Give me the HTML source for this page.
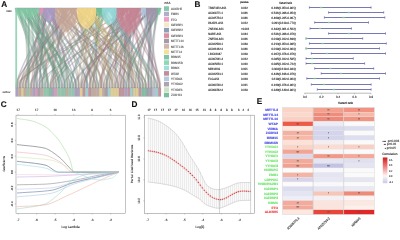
<!DOCTYPE html>
<html><head><meta charset="utf-8"><style>
html,body{margin:0;padding:0;background:#fff;width:400px;height:232px;overflow:hidden}
svg{display:block;will-change:transform;text-rendering:geometricPrecision}
text{stroke:currentColor;stroke-width:0.12px}
</style></head><body>
<svg width="400" height="232" viewBox="0 0 400 232">
<rect width="400" height="232" fill="#fff"/>
<defs><linearGradient id="g86cfab" gradientUnits="userSpaceOnUse" x1="0" y1="8" x2="0" y2="88"><stop offset="0" stop-color="#86cfab" stop-opacity="1.00"/><stop offset="0.10" stop-color="#86cfab" stop-opacity="0.75"/><stop offset="0.25" stop-color="#86cfab" stop-opacity="0.40"/><stop offset="1" stop-color="#86cfab" stop-opacity="0.40"/></linearGradient><linearGradient id="ge893b8" gradientUnits="userSpaceOnUse" x1="0" y1="8" x2="0" y2="88"><stop offset="0" stop-color="#e893b8" stop-opacity="1.00"/><stop offset="0.10" stop-color="#e893b8" stop-opacity="0.75"/><stop offset="0.25" stop-color="#e893b8" stop-opacity="0.40"/><stop offset="1" stop-color="#e893b8" stop-opacity="0.40"/></linearGradient><linearGradient id="gab9cc6" gradientUnits="userSpaceOnUse" x1="0" y1="8" x2="0" y2="88"><stop offset="0" stop-color="#ab9cc6" stop-opacity="1.00"/><stop offset="0.10" stop-color="#ab9cc6" stop-opacity="0.75"/><stop offset="0.25" stop-color="#ab9cc6" stop-opacity="0.40"/><stop offset="1" stop-color="#ab9cc6" stop-opacity="0.40"/></linearGradient><linearGradient id="gc9a99a" gradientUnits="userSpaceOnUse" x1="0" y1="8" x2="0" y2="88"><stop offset="0" stop-color="#c9a99a" stop-opacity="1.00"/><stop offset="0.10" stop-color="#c9a99a" stop-opacity="0.75"/><stop offset="0.25" stop-color="#c9a99a" stop-opacity="0.40"/><stop offset="1" stop-color="#c9a99a" stop-opacity="0.40"/></linearGradient><linearGradient id="gf5da88" gradientUnits="userSpaceOnUse" x1="0" y1="8" x2="0" y2="88"><stop offset="0" stop-color="#f5da88" stop-opacity="1.00"/><stop offset="0.10" stop-color="#f5da88" stop-opacity="0.75"/><stop offset="0.25" stop-color="#f5da88" stop-opacity="0.40"/><stop offset="1" stop-color="#f5da88" stop-opacity="0.40"/></linearGradient><linearGradient id="g72c09e" gradientUnits="userSpaceOnUse" x1="0" y1="8" x2="0" y2="88"><stop offset="0" stop-color="#72c09e" stop-opacity="1.00"/><stop offset="0.10" stop-color="#72c09e" stop-opacity="0.75"/><stop offset="0.25" stop-color="#72c09e" stop-opacity="0.40"/><stop offset="1" stop-color="#72c09e" stop-opacity="0.40"/></linearGradient><linearGradient id="g98dcdc" gradientUnits="userSpaceOnUse" x1="0" y1="8" x2="0" y2="88"><stop offset="0" stop-color="#98dcdc" stop-opacity="1.00"/><stop offset="0.10" stop-color="#98dcdc" stop-opacity="0.75"/><stop offset="0.25" stop-color="#98dcdc" stop-opacity="0.40"/><stop offset="1" stop-color="#98dcdc" stop-opacity="0.40"/></linearGradient><linearGradient id="gc98797" gradientUnits="userSpaceOnUse" x1="0" y1="8" x2="0" y2="88"><stop offset="0" stop-color="#c98797" stop-opacity="1.00"/><stop offset="0.10" stop-color="#c98797" stop-opacity="0.75"/><stop offset="0.25" stop-color="#c98797" stop-opacity="0.40"/><stop offset="1" stop-color="#c98797" stop-opacity="0.40"/></linearGradient><linearGradient id="gb6c8de" gradientUnits="userSpaceOnUse" x1="0" y1="8" x2="0" y2="88"><stop offset="0" stop-color="#b6c8de" stop-opacity="1.00"/><stop offset="0.10" stop-color="#b6c8de" stop-opacity="0.75"/><stop offset="0.25" stop-color="#b6c8de" stop-opacity="0.40"/><stop offset="1" stop-color="#b6c8de" stop-opacity="0.40"/></linearGradient><linearGradient id="ga398ae" gradientUnits="userSpaceOnUse" x1="0" y1="8" x2="0" y2="88"><stop offset="0" stop-color="#a398ae" stop-opacity="1.00"/><stop offset="0.10" stop-color="#a398ae" stop-opacity="0.75"/><stop offset="0.25" stop-color="#a398ae" stop-opacity="0.40"/><stop offset="1" stop-color="#a398ae" stop-opacity="0.40"/></linearGradient><linearGradient id="g78c4a0" gradientUnits="userSpaceOnUse" x1="0" y1="8" x2="0" y2="88"><stop offset="0" stop-color="#78c4a0" stop-opacity="1.00"/><stop offset="0.10" stop-color="#78c4a0" stop-opacity="0.75"/><stop offset="0.25" stop-color="#78c4a0" stop-opacity="0.40"/><stop offset="1" stop-color="#78c4a0" stop-opacity="0.40"/></linearGradient></defs>
<text x="1.3" y="6.8" font-size="8.2" font-weight="bold" font-family="Liberation Sans, sans-serif" fill="#111" color="#111">A</text>
<text x="6.20" y="12.20" font-size="2.80" text-anchor="start" textLength="5.34" lengthAdjust="spacingAndGlyphs" font-family="Liberation Sans, sans-serif" fill="#555" color="#555">risks</text>
<text x="2.40" y="93.20" font-size="2.80" text-anchor="start" textLength="7.92" lengthAdjust="spacingAndGlyphs" font-family="Liberation Sans, sans-serif" fill="#555" color="#555">outflow</text>
<path d="M72.76,8.00 L72.76,8.00 C61.36,24.72 19.20,67.28 15.78,84.00 L15.78,88.00 L16.71,88.00 L16.71,84.00 C20.16,67.28 62.68,24.72 74.17,8.00 L74.17,8.00 Z" fill="url(#gc9a99a)" stroke="#444" stroke-opacity="0.45" stroke-width="0.30"/>
<path d="M51.48,8.00 L51.48,8.00 C44.44,24.72 18.41,67.28 16.30,84.00 L16.30,88.00 L17.23,88.00 L17.23,84.00 C19.37,67.28 45.78,24.72 52.92,8.00 L52.92,8.00 Z" fill="url(#gab9cc6)" stroke="#444" stroke-opacity="0.45" stroke-width="0.30"/>
<path d="M68.04,8.00 L68.04,8.00 C57.80,24.72 19.89,67.28 16.82,84.00 L16.82,88.00 L17.75,88.00 L17.75,84.00 C20.85,67.28 59.12,24.72 69.46,8.00 L69.46,8.00 Z" fill="url(#gc9a99a)" stroke="#444" stroke-opacity="0.45" stroke-width="0.30"/>
<path d="M139.89,8.00 L139.89,8.00 C115.38,24.72 24.69,67.28 17.33,84.00 L17.33,88.00 L18.26,88.00 L18.26,84.00 C25.65,67.28 116.71,24.72 141.32,8.00 L141.32,8.00 Z" fill="url(#gc98797)" stroke="#444" stroke-opacity="0.45" stroke-width="0.30"/>
<path d="M128.04,8.00 L128.04,8.00 C106.20,24.72 25.38,67.28 18.83,84.00 L18.83,88.00 L19.76,88.00 L19.76,84.00 C26.34,67.28 107.52,24.72 129.46,8.00 L129.46,8.00 Z" fill="url(#gc98797)" stroke="#444" stroke-opacity="0.45" stroke-width="0.30"/>
<path d="M71.97,8.00 L71.97,8.00 C61.45,24.72 22.50,67.28 19.35,84.00 L19.35,88.00 L20.28,88.00 L20.28,84.00 C23.46,67.28 62.76,24.72 73.39,8.00 L73.39,8.00 Z" fill="url(#gc9a99a)" stroke="#444" stroke-opacity="0.45" stroke-width="0.30"/>
<path d="M86.18,8.00 L86.18,8.00 C72.92,24.72 23.84,67.28 19.86,84.00 L19.86,88.00 L20.79,88.00 L20.79,84.00 C24.80,67.28 74.25,24.72 87.61,8.00 L87.61,8.00 Z" fill="url(#gf5da88)" stroke="#444" stroke-opacity="0.45" stroke-width="0.30"/>
<path d="M49.08,8.00 L49.08,8.00 C43.34,24.72 22.10,67.28 20.38,84.00 L20.38,88.00 L21.31,88.00 L21.31,84.00 C23.06,67.28 44.68,24.72 50.52,8.00 L50.52,8.00 Z" fill="url(#gab9cc6)" stroke="#444" stroke-opacity="0.45" stroke-width="0.30"/>
<path d="M88.56,8.00 L88.56,8.00 C75.22,24.72 25.88,67.28 21.88,84.00 L21.88,88.00 L22.81,88.00 L22.81,84.00 C26.84,67.28 76.55,24.72 89.98,8.00 L89.98,8.00 Z" fill="url(#gf5da88)" stroke="#444" stroke-opacity="0.45" stroke-width="0.30"/>
<path d="M56.26,8.00 L56.26,8.00 C49.48,24.72 24.42,67.28 22.39,84.00 L22.39,88.00 L23.32,88.00 L23.32,84.00 C25.38,67.28 50.80,24.72 57.67,8.00 L57.67,8.00 Z" fill="url(#gc9a99a)" stroke="#444" stroke-opacity="0.45" stroke-width="0.30"/>
<path d="M68.83,8.00 L68.83,8.00 C59.64,24.72 25.66,67.28 22.91,84.00 L22.91,88.00 L23.84,88.00 L23.84,84.00 C26.62,67.28 60.96,24.72 70.24,8.00 L70.24,8.00 Z" fill="url(#gc9a99a)" stroke="#444" stroke-opacity="0.45" stroke-width="0.30"/>
<path d="M83.02,8.00 L83.02,8.00 C71.29,24.72 27.92,67.28 24.41,84.00 L24.41,88.00 L25.34,88.00 L25.34,84.00 C28.88,67.28 72.62,24.72 84.44,8.00 L84.44,8.00 Z" fill="url(#gf5da88)" stroke="#444" stroke-opacity="0.45" stroke-width="0.30"/>
<path d="M61.76,8.00 L61.76,8.00 C54.39,24.72 27.13,67.28 24.92,84.00 L24.92,88.00 L25.85,88.00 L25.85,84.00 C28.09,67.28 55.71,24.72 63.17,8.00 L63.17,8.00 Z" fill="url(#gc9a99a)" stroke="#444" stroke-opacity="0.45" stroke-width="0.30"/>
<path d="M64.90,8.00 L64.90,8.00 C57.01,24.72 27.81,67.28 25.44,84.00 L25.44,88.00 L26.37,88.00 L26.37,84.00 C28.77,67.28 58.33,24.72 66.31,8.00 L66.31,8.00 Z" fill="url(#gc9a99a)" stroke="#444" stroke-opacity="0.45" stroke-width="0.30"/>
<path d="M44.28,8.00 L44.28,8.00 C40.62,24.72 27.06,67.28 25.96,84.00 L25.96,88.00 L26.89,88.00 L26.89,84.00 C28.02,67.28 41.95,24.72 45.72,8.00 L45.72,8.00 Z" fill="url(#gab9cc6)" stroke="#444" stroke-opacity="0.45" stroke-width="0.30"/>
<path d="M24.40,8.00 L24.40,8.00 C25.01,24.72 27.27,67.28 27.45,84.00 L27.45,88.00 L28.38,88.00 L28.38,84.00 C28.23,67.28 26.34,24.72 25.83,8.00 L25.83,8.00 Z" fill="url(#g86cfab)" stroke="#444" stroke-opacity="0.45" stroke-width="0.30"/>
<path d="M28.37,8.00 L28.37,8.00 C28.29,24.72 27.99,67.28 27.97,84.00 L27.97,88.00 L28.90,88.00 L28.90,84.00 C28.95,67.28 29.62,24.72 29.80,8.00 L29.80,8.00 Z" fill="url(#g86cfab)" stroke="#444" stroke-opacity="0.45" stroke-width="0.30"/>
<path d="M27.58,8.00 L27.58,8.00 C27.76,24.72 28.43,67.28 28.49,84.00 L28.49,88.00 L29.42,88.00 L29.42,84.00 C29.39,67.28 29.09,24.72 29.00,8.00 L29.00,8.00 Z" fill="url(#g86cfab)" stroke="#444" stroke-opacity="0.45" stroke-width="0.30"/>
<path d="M90.93,8.00 L90.93,8.00 C78.74,24.72 33.64,67.28 29.98,84.00 L29.98,88.00 L30.91,88.00 L30.91,84.00 C34.60,67.28 80.07,24.72 92.36,8.00 L92.36,8.00 Z" fill="url(#gf5da88)" stroke="#444" stroke-opacity="0.45" stroke-width="0.30"/>
<path d="M75.11,8.00 L75.11,8.00 C66.19,24.72 33.18,67.28 30.50,84.00 L30.50,88.00 L31.43,88.00 L31.43,84.00 C34.14,67.28 67.51,24.72 76.53,8.00 L76.53,8.00 Z" fill="url(#gc9a99a)" stroke="#444" stroke-opacity="0.45" stroke-width="0.30"/>
<path d="M103.29,8.00 L103.29,8.00 C88.83,24.72 35.35,67.28 31.02,84.00 L31.02,88.00 L31.95,88.00 L31.95,84.00 C36.31,67.28 90.18,24.72 104.74,8.00 L104.74,8.00 Z" fill="url(#g98dcdc)" stroke="#444" stroke-opacity="0.45" stroke-width="0.30"/>
<path d="M39.48,8.00 L39.48,8.00 C37.89,24.72 32.01,67.28 31.53,84.00 L31.53,88.00 L32.46,88.00 L32.46,84.00 C32.97,67.28 39.23,24.72 40.92,8.00 L40.92,8.00 Z" fill="url(#ge893b8)" stroke="#444" stroke-opacity="0.45" stroke-width="0.30"/>
<path d="M46.68,8.00 L46.68,8.00 C43.95,24.72 33.85,67.28 33.03,84.00 L33.03,88.00 L33.96,88.00 L33.96,84.00 C34.81,67.28 45.29,24.72 48.12,8.00 L48.12,8.00 Z" fill="url(#gab9cc6)" stroke="#444" stroke-opacity="0.45" stroke-width="0.30"/>
<path d="M65.69,8.00 L65.69,8.00 C59.26,24.72 35.47,67.28 33.55,84.00 L33.55,88.00 L34.48,88.00 L34.48,84.00 C36.43,67.28 60.58,24.72 67.10,8.00 L67.10,8.00 Z" fill="url(#gc9a99a)" stroke="#444" stroke-opacity="0.45" stroke-width="0.30"/>
<path d="M53.88,8.00 L53.88,8.00 C49.92,24.72 35.25,67.28 34.06,84.00 L34.06,88.00 L34.99,88.00 L34.99,84.00 C36.21,67.28 51.25,24.72 55.32,8.00 L55.32,8.00 Z" fill="url(#gab9cc6)" stroke="#444" stroke-opacity="0.45" stroke-width="0.30"/>
<path d="M18.06,8.00 L18.06,8.00 C21.56,24.72 34.51,67.28 35.56,84.00 L35.56,88.00 L36.49,88.00 L36.49,84.00 C35.47,67.28 22.88,24.72 19.48,8.00 L19.48,8.00 Z" fill="url(#g86cfab)" stroke="#444" stroke-opacity="0.45" stroke-width="0.30"/>
<path d="M38.68,8.00 L38.68,8.00 C38.16,24.72 36.23,67.28 36.08,84.00 L36.08,88.00 L37.01,88.00 L37.01,84.00 C37.19,67.28 39.50,24.72 40.12,8.00 L40.12,8.00 Z" fill="url(#ge893b8)" stroke="#444" stroke-opacity="0.45" stroke-width="0.30"/>
<path d="M108.93,8.00 L108.93,8.00 C94.46,24.72 40.93,67.28 36.59,84.00 L36.59,88.00 L37.52,88.00 L37.52,84.00 C41.89,67.28 95.81,24.72 110.38,8.00 L110.38,8.00 Z" fill="url(#g98dcdc)" stroke="#444" stroke-opacity="0.45" stroke-width="0.30"/>
<path d="M29.16,8.00 L29.16,8.00 C30.75,24.72 36.63,67.28 37.11,84.00 L37.11,88.00 L38.04,88.00 L38.04,84.00 C37.59,67.28 32.08,24.72 30.59,8.00 L30.59,8.00 Z" fill="url(#g86cfab)" stroke="#444" stroke-opacity="0.45" stroke-width="0.30"/>
<path d="M150.60,8.00 L150.60,8.00 C128.20,24.72 45.32,67.28 38.60,84.00 L38.60,88.00 L39.54,88.00 L39.54,84.00 C46.29,67.28 129.57,24.72 152.08,8.00 L152.08,8.00 Z" fill="url(#ga398ae)" stroke="#444" stroke-opacity="0.45" stroke-width="0.30"/>
<path d="M45.08,8.00 L45.08,8.00 C43.89,24.72 39.48,67.28 39.12,84.00 L39.12,88.00 L40.05,88.00 L40.05,84.00 C40.44,67.28 45.23,24.72 46.52,8.00 L46.52,8.00 Z" fill="url(#gab9cc6)" stroke="#444" stroke-opacity="0.45" stroke-width="0.30"/>
<path d="M43.48,8.00 L43.48,8.00 C42.71,24.72 39.87,67.28 39.64,84.00 L39.64,88.00 L40.57,88.00 L40.57,84.00 C40.83,67.28 44.05,24.72 44.92,8.00 L44.92,8.00 Z" fill="url(#gab9cc6)" stroke="#444" stroke-opacity="0.45" stroke-width="0.30"/>
<path d="M74.33,8.00 L74.33,8.00 C67.69,24.72 43.13,67.28 41.13,84.00 L41.13,88.00 L42.06,88.00 L42.06,84.00 C44.09,67.28 69.01,24.72 75.74,8.00 L75.74,8.00 Z" fill="url(#gc9a99a)" stroke="#444" stroke-opacity="0.45" stroke-width="0.30"/>
<path d="M63.33,8.00 L63.33,8.00 C58.99,24.72 42.95,67.28 41.65,84.00 L41.65,88.00 L42.58,88.00 L42.58,84.00 C43.91,67.28 60.31,24.72 64.74,8.00 L64.74,8.00 Z" fill="url(#gc9a99a)" stroke="#444" stroke-opacity="0.45" stroke-width="0.30"/>
<path d="M17.26,8.00 L17.26,8.00 C22.24,24.72 40.67,67.28 42.17,84.00 L42.17,88.00 L43.10,88.00 L43.10,84.00 C41.63,67.28 23.57,24.72 18.69,8.00 L18.69,8.00 Z" fill="url(#g86cfab)" stroke="#444" stroke-opacity="0.45" stroke-width="0.30"/>
<path d="M14.88,8.00 L14.88,8.00 C20.44,24.72 41.02,67.28 42.68,84.00 L42.68,88.00 L43.62,88.00 L43.62,84.00 C41.98,67.28 21.77,24.72 16.31,8.00 L16.31,8.00 Z" fill="url(#g86cfab)" stroke="#444" stroke-opacity="0.45" stroke-width="0.30"/>
<path d="M33.13,8.00 L33.13,8.00 C35.34,24.72 43.52,67.28 44.18,84.00 L44.18,88.00 L45.11,88.00 L45.11,84.00 C44.48,67.28 36.67,24.72 34.56,8.00 L34.56,8.00 Z" fill="url(#g86cfab)" stroke="#444" stroke-opacity="0.45" stroke-width="0.30"/>
<path d="M107.32,8.00 L107.32,8.00 C94.79,24.72 48.46,67.28 44.70,84.00 L44.70,88.00 L45.63,88.00 L45.63,84.00 C49.42,67.28 96.14,24.72 108.77,8.00 L108.77,8.00 Z" fill="url(#g98dcdc)" stroke="#444" stroke-opacity="0.45" stroke-width="0.30"/>
<path d="M35.51,8.00 L35.51,8.00 C37.45,24.72 44.63,67.28 45.21,84.00 L45.21,88.00 L46.14,88.00 L46.14,84.00 C45.59,67.28 38.78,24.72 36.94,8.00 L36.94,8.00 Z" fill="url(#g86cfab)" stroke="#444" stroke-opacity="0.45" stroke-width="0.30"/>
<path d="M40.28,8.00 L40.28,8.00 C41.57,24.72 46.33,67.28 46.71,84.00 L46.71,88.00 L47.64,88.00 L47.64,84.00 C47.29,67.28 42.90,24.72 41.72,8.00 L41.72,8.00 Z" fill="url(#ge893b8)" stroke="#444" stroke-opacity="0.45" stroke-width="0.30"/>
<path d="M16.47,8.00 L16.47,8.00 C22.62,24.72 45.38,67.28 47.23,84.00 L47.23,88.00 L48.16,88.00 L48.16,84.00 C46.34,67.28 23.95,24.72 17.90,8.00 L17.90,8.00 Z" fill="url(#g86cfab)" stroke="#444" stroke-opacity="0.45" stroke-width="0.30"/>
<path d="M29.96,8.00 L29.96,8.00 C33.51,24.72 46.68,67.28 47.74,84.00 L47.74,88.00 L48.67,88.00 L48.67,84.00 C47.64,67.28 34.84,24.72 31.38,8.00 L31.38,8.00 Z" fill="url(#g86cfab)" stroke="#444" stroke-opacity="0.45" stroke-width="0.30"/>
<path d="M18.85,8.00 L18.85,8.00 C24.73,24.72 46.50,67.28 48.26,84.00 L48.26,88.00 L49.19,88.00 L49.19,84.00 C47.46,67.28 26.06,24.72 20.28,8.00 L20.28,8.00 Z" fill="url(#g86cfab)" stroke="#444" stroke-opacity="0.45" stroke-width="0.30"/>
<path d="M100.20,8.00 L100.20,8.00 C90.11,24.72 52.78,67.28 49.76,84.00 L49.76,88.00 L50.69,88.00 L50.69,84.00 C53.74,67.28 91.38,24.72 101.55,8.00 L101.55,8.00 Z" fill="url(#g72c09e)" stroke="#444" stroke-opacity="0.45" stroke-width="0.30"/>
<path d="M66.47,8.00 L66.47,8.00 C63.23,24.72 51.25,67.28 50.27,84.00 L50.27,88.00 L51.20,88.00 L51.20,84.00 C52.21,67.28 64.55,24.72 67.89,8.00 L67.89,8.00 Z" fill="url(#gc9a99a)" stroke="#444" stroke-opacity="0.45" stroke-width="0.30"/>
<path d="M128.83,8.00 L128.83,8.00 C113.22,24.72 55.47,67.28 50.79,84.00 L50.79,88.00 L51.72,88.00 L51.72,84.00 C56.43,67.28 114.55,24.72 130.25,8.00 L130.25,8.00 Z" fill="url(#gc98797)" stroke="#444" stroke-opacity="0.45" stroke-width="0.30"/>
<path d="M64.11,8.00 L64.11,8.00 C61.75,24.72 53.00,67.28 52.29,84.00 L52.29,88.00 L53.22,88.00 L53.22,84.00 C53.96,67.28 63.07,24.72 65.53,8.00 L65.53,8.00 Z" fill="url(#gc9a99a)" stroke="#444" stroke-opacity="0.45" stroke-width="0.30"/>
<path d="M52.28,8.00 L52.28,8.00 C52.38,24.72 52.77,67.28 52.80,84.00 L52.80,88.00 L53.73,88.00 L53.73,84.00 C53.73,67.28 53.72,24.72 53.72,8.00 L53.72,8.00 Z" fill="url(#gab9cc6)" stroke="#444" stroke-opacity="0.45" stroke-width="0.30"/>
<path d="M86.98,8.00 L86.98,8.00 C80.24,24.72 55.34,67.28 53.32,84.00 L53.32,88.00 L54.25,88.00 L54.25,84.00 C56.30,67.28 81.57,24.72 88.40,8.00 L88.40,8.00 Z" fill="url(#gf5da88)" stroke="#444" stroke-opacity="0.45" stroke-width="0.30"/>
<path d="M142.33,8.00 L142.33,8.00 C124.63,24.72 59.15,67.28 53.84,84.00 L53.84,88.00 L54.77,88.00 L54.77,84.00 C60.11,67.28 126.02,24.72 143.83,8.00 L143.83,8.00 Z" fill="url(#gb6c8de)" stroke="#444" stroke-opacity="0.45" stroke-width="0.30"/>
<path d="M31.54,8.00 L31.54,8.00 C36.30,24.72 53.91,67.28 55.33,84.00 L55.33,88.00 L56.26,88.00 L56.26,84.00 C54.87,67.28 37.63,24.72 32.97,8.00 L32.97,8.00 Z" fill="url(#g86cfab)" stroke="#444" stroke-opacity="0.45" stroke-width="0.30"/>
<path d="M41.08,8.00 L41.08,8.00 C44.03,24.72 54.96,67.28 55.85,84.00 L55.85,88.00 L56.78,88.00 L56.78,84.00 C55.93,67.28 45.37,24.72 42.52,8.00 L42.52,8.00 Z" fill="url(#ge893b8)" stroke="#444" stroke-opacity="0.45" stroke-width="0.30"/>
<path d="M97.20,8.00 L97.20,8.00 C89.03,24.72 58.82,67.28 56.37,84.00 L56.37,88.00 L57.30,88.00 L57.30,84.00 C59.77,67.28 90.30,24.72 98.55,8.00 L98.55,8.00 Z" fill="url(#g72c09e)" stroke="#444" stroke-opacity="0.45" stroke-width="0.30"/>
<path d="M109.73,8.00 L109.73,8.00 C99.36,24.72 60.98,67.28 57.86,84.00 L57.86,88.00 L58.79,88.00 L58.79,84.00 C61.94,67.28 100.71,24.72 111.18,8.00 L111.18,8.00 Z" fill="url(#g98dcdc)" stroke="#444" stroke-opacity="0.45" stroke-width="0.30"/>
<path d="M23.61,8.00 L23.61,8.00 C30.56,24.72 56.29,67.28 58.38,84.00 L58.38,88.00 L59.31,88.00 L59.31,84.00 C57.25,67.28 31.89,24.72 25.04,8.00 L25.04,8.00 Z" fill="url(#g86cfab)" stroke="#444" stroke-opacity="0.45" stroke-width="0.30"/>
<path d="M22.02,8.00 L22.02,8.00 C29.40,24.72 56.68,67.28 58.90,84.00 L58.90,88.00 L59.83,88.00 L59.83,84.00 C57.64,67.28 30.73,24.72 23.45,8.00 L23.45,8.00 Z" fill="url(#g86cfab)" stroke="#444" stroke-opacity="0.45" stroke-width="0.30"/>
<path d="M15.68,8.00 L15.68,8.00 C24.42,24.72 56.79,67.28 59.41,84.00 L59.41,88.00 L60.34,88.00 L60.34,84.00 C57.75,67.28 25.75,24.72 17.10,8.00 L17.10,8.00 Z" fill="url(#g86cfab)" stroke="#444" stroke-opacity="0.45" stroke-width="0.30"/>
<path d="M20.44,8.00 L20.44,8.00 C28.53,24.72 58.48,67.28 60.91,84.00 L60.91,88.00 L61.84,88.00 L61.84,84.00 C59.44,67.28 29.86,24.72 21.86,8.00 L21.86,8.00 Z" fill="url(#g86cfab)" stroke="#444" stroke-opacity="0.45" stroke-width="0.30"/>
<path d="M22.82,8.00 L22.82,8.00 C30.54,24.72 59.11,67.28 61.43,84.00 L61.43,88.00 L62.36,88.00 L62.36,84.00 C60.07,67.28 31.87,24.72 24.24,8.00 L24.24,8.00 Z" fill="url(#g86cfab)" stroke="#444" stroke-opacity="0.45" stroke-width="0.30"/>
<path d="M53.08,8.00 L53.08,8.00 C54.85,24.72 61.41,67.28 61.94,84.00 L61.94,88.00 L62.87,88.00 L62.87,84.00 C62.37,67.28 56.19,24.72 54.52,8.00 L54.52,8.00 Z" fill="url(#gab9cc6)" stroke="#444" stroke-opacity="0.45" stroke-width="0.30"/>
<path d="M146.49,8.00 L146.49,8.00 C129.88,24.72 68.42,67.28 63.44,84.00 L63.44,88.00 L64.37,88.00 L64.37,84.00 C69.39,67.28 131.25,24.72 147.97,8.00 L147.97,8.00 Z" fill="url(#ga398ae)" stroke="#444" stroke-opacity="0.45" stroke-width="0.30"/>
<path d="M30.75,8.00 L30.75,8.00 C37.39,24.72 61.96,67.28 63.96,84.00 L63.96,88.00 L64.89,88.00 L64.89,84.00 C62.92,67.28 38.72,24.72 32.18,8.00 L32.18,8.00 Z" fill="url(#g86cfab)" stroke="#444" stroke-opacity="0.45" stroke-width="0.30"/>
<path d="M33.92,8.00 L33.92,8.00 C40.03,24.72 62.64,67.28 64.47,84.00 L64.47,88.00 L65.40,88.00 L65.40,84.00 C63.60,67.28 41.36,24.72 35.35,8.00 L35.35,8.00 Z" fill="url(#g86cfab)" stroke="#444" stroke-opacity="0.45" stroke-width="0.30"/>
<path d="M25.99,8.00 L25.99,8.00 C33.79,24.72 62.65,67.28 64.99,84.00 L64.99,88.00 L65.92,88.00 L65.92,84.00 C63.61,67.28 35.12,24.72 27.42,8.00 L27.42,8.00 Z" fill="url(#g86cfab)" stroke="#444" stroke-opacity="0.45" stroke-width="0.30"/>
<path d="M26.78,8.00 L26.78,8.00 C34.72,24.72 64.10,67.28 66.49,84.00 L66.49,88.00 L67.42,88.00 L67.42,84.00 C65.06,67.28 36.05,24.72 28.21,8.00 L28.21,8.00 Z" fill="url(#g86cfab)" stroke="#444" stroke-opacity="0.45" stroke-width="0.30"/>
<path d="M55.47,8.00 L55.47,8.00 C57.78,24.72 66.31,67.28 67.00,84.00 L67.00,88.00 L67.93,88.00 L67.93,84.00 C67.27,67.28 59.10,24.72 56.89,8.00 L56.89,8.00 Z" fill="url(#gc9a99a)" stroke="#444" stroke-opacity="0.45" stroke-width="0.30"/>
<path d="M34.72,8.00 L34.72,8.00 C41.28,24.72 65.55,67.28 67.52,84.00 L67.52,88.00 L68.45,88.00 L68.45,84.00 C66.51,67.28 42.61,24.72 36.14,8.00 L36.14,8.00 Z" fill="url(#g86cfab)" stroke="#444" stroke-opacity="0.45" stroke-width="0.30"/>
<path d="M49.88,8.00 L49.88,8.00 C53.71,24.72 67.87,67.28 69.02,84.00 L69.02,88.00 L69.95,88.00 L69.95,84.00 C68.83,67.28 55.05,24.72 51.32,8.00 L51.32,8.00 Z" fill="url(#gab9cc6)" stroke="#444" stroke-opacity="0.45" stroke-width="0.30"/>
<path d="M32.34,8.00 L32.34,8.00 C39.78,24.72 67.30,67.28 69.53,84.00 L69.53,88.00 L70.46,88.00 L70.46,84.00 C68.26,67.28 41.10,24.72 33.76,8.00 L33.76,8.00 Z" fill="url(#g86cfab)" stroke="#444" stroke-opacity="0.45" stroke-width="0.30"/>
<path d="M97.95,8.00 L97.95,8.00 C92.37,24.72 71.72,67.28 70.05,84.00 L70.05,88.00 L70.98,88.00 L70.98,84.00 C72.68,67.28 93.64,24.72 99.30,8.00 L99.30,8.00 Z" fill="url(#g72c09e)" stroke="#444" stroke-opacity="0.45" stroke-width="0.30"/>
<path d="M102.48,8.00 L102.48,8.00 C96.10,24.72 72.48,67.28 70.57,84.00 L70.57,88.00 L71.50,88.00 L71.50,84.00 C73.44,67.28 97.45,24.72 103.93,8.00 L103.93,8.00 Z" fill="url(#g98dcdc)" stroke="#444" stroke-opacity="0.45" stroke-width="0.30"/>
<path d="M37.10,8.00 L37.10,8.00 C44.09,24.72 69.96,67.28 72.06,84.00 L72.06,88.00 L72.99,88.00 L72.99,84.00 C70.92,67.28 45.42,24.72 38.52,8.00 L38.52,8.00 Z" fill="url(#g86cfab)" stroke="#444" stroke-opacity="0.45" stroke-width="0.30"/>
<path d="M25.20,8.00 L25.20,8.00 C34.67,24.72 69.74,67.28 72.58,84.00 L72.58,88.00 L73.51,88.00 L73.51,84.00 C70.70,67.28 36.00,24.72 26.62,8.00 L26.62,8.00 Z" fill="url(#g86cfab)" stroke="#444" stroke-opacity="0.45" stroke-width="0.30"/>
<path d="M153.89,8.00 L153.89,8.00 C137.73,24.72 77.94,67.28 73.10,84.00 L73.10,88.00 L74.03,88.00 L74.03,84.00 C78.91,67.28 139.10,24.72 155.36,8.00 L155.36,8.00 Z" fill="url(#ga398ae)" stroke="#444" stroke-opacity="0.45" stroke-width="0.30"/>
<path d="M152.24,8.00 L152.24,8.00 C136.71,24.72 79.25,67.28 74.59,84.00 L74.59,88.00 L75.52,88.00 L75.52,84.00 C80.21,67.28 138.08,24.72 153.72,8.00 L153.72,8.00 Z" fill="url(#ga398ae)" stroke="#444" stroke-opacity="0.45" stroke-width="0.30"/>
<path d="M42.68,8.00 L42.68,8.00 C49.17,24.72 73.16,67.28 75.11,84.00 L75.11,88.00 L76.04,88.00 L76.04,84.00 C74.12,67.28 50.50,24.72 44.12,8.00 L44.12,8.00 Z" fill="url(#gab9cc6)" stroke="#444" stroke-opacity="0.45" stroke-width="0.30"/>
<path d="M21.23,8.00 L21.23,8.00 C32.11,24.72 72.36,67.28 75.63,84.00 L75.63,88.00 L76.56,88.00 L76.56,84.00 C73.32,67.28 33.44,24.72 22.66,8.00 L22.66,8.00 Z" fill="url(#g86cfab)" stroke="#444" stroke-opacity="0.45" stroke-width="0.30"/>
<path d="M19.64,8.00 L19.64,8.00 C30.94,24.72 72.75,67.28 76.14,84.00 L76.14,88.00 L77.07,88.00 L77.07,84.00 C73.71,67.28 32.27,24.72 21.07,8.00 L21.07,8.00 Z" fill="url(#g86cfab)" stroke="#444" stroke-opacity="0.45" stroke-width="0.30"/>
<path d="M89.35,8.00 L89.35,8.00 C87.01,24.72 78.34,67.28 77.64,84.00 L77.64,88.00 L78.57,88.00 L78.57,84.00 C79.30,67.28 88.33,24.72 90.78,8.00 L90.78,8.00 Z" fill="url(#gf5da88)" stroke="#444" stroke-opacity="0.45" stroke-width="0.30"/>
<path d="M47.48,8.00 L47.48,8.00 C53.62,24.72 76.32,67.28 78.16,84.00 L78.16,88.00 L79.09,88.00 L79.09,84.00 C77.28,67.28 54.95,24.72 48.92,8.00 L48.92,8.00 Z" fill="url(#gab9cc6)" stroke="#444" stroke-opacity="0.45" stroke-width="0.30"/>
<path d="M60.97,8.00 L60.97,8.00 C64.51,24.72 77.61,67.28 78.67,84.00 L78.67,88.00 L79.60,88.00 L79.60,84.00 C78.57,67.28 65.83,24.72 62.39,8.00 L62.39,8.00 Z" fill="url(#gc9a99a)" stroke="#444" stroke-opacity="0.45" stroke-width="0.30"/>
<path d="M105.71,8.00 L105.71,8.00 C100.60,24.72 81.70,67.28 80.17,84.00 L80.17,88.00 L81.10,88.00 L81.10,84.00 C82.66,67.28 101.94,24.72 107.16,8.00 L107.16,8.00 Z" fill="url(#g98dcdc)" stroke="#444" stroke-opacity="0.45" stroke-width="0.30"/>
<path d="M93.31,8.00 L93.31,8.00 C90.78,24.72 81.44,67.28 80.69,84.00 L80.69,88.00 L81.62,88.00 L81.62,84.00 C82.40,67.28 92.11,24.72 94.73,8.00 L94.73,8.00 Z" fill="url(#gf5da88)" stroke="#444" stroke-opacity="0.45" stroke-width="0.30"/>
<path d="M122.51,8.00 L122.51,8.00 C114.25,24.72 83.68,67.28 81.20,84.00 L81.20,88.00 L82.13,88.00 L82.13,84.00 C84.64,67.28 115.57,24.72 123.93,8.00 L123.93,8.00 Z" fill="url(#gc98797)" stroke="#444" stroke-opacity="0.45" stroke-width="0.30"/>
<path d="M136.73,8.00 L136.73,8.00 C125.73,24.72 85.02,67.28 81.72,84.00 L81.72,88.00 L82.65,88.00 L82.65,84.00 C85.98,67.28 127.05,24.72 138.15,8.00 L138.15,8.00 Z" fill="url(#gc98797)" stroke="#444" stroke-opacity="0.45" stroke-width="0.30"/>
<path d="M134.36,8.00 L134.36,8.00 C124.13,24.72 86.28,67.28 83.22,84.00 L83.22,88.00 L84.15,88.00 L84.15,84.00 C87.24,67.28 125.46,24.72 135.78,8.00 L135.78,8.00 Z" fill="url(#gc98797)" stroke="#444" stroke-opacity="0.45" stroke-width="0.30"/>
<path d="M123.30,8.00 L123.30,8.00 C115.38,24.72 86.11,67.28 83.73,84.00 L83.73,88.00 L84.66,88.00 L84.66,84.00 C87.07,67.28 116.71,24.72 124.72,8.00 L124.72,8.00 Z" fill="url(#gc98797)" stroke="#444" stroke-opacity="0.45" stroke-width="0.30"/>
<path d="M131.99,8.00 L131.99,8.00 C122.44,24.72 87.11,67.28 84.25,84.00 L84.25,88.00 L85.18,88.00 L85.18,84.00 C88.07,67.28 123.77,24.72 133.41,8.00 L133.41,8.00 Z" fill="url(#gc98797)" stroke="#444" stroke-opacity="0.45" stroke-width="0.30"/>
<path d="M104.90,8.00 L104.90,8.00 C101.07,24.72 86.89,67.28 85.74,84.00 L85.74,88.00 L86.68,88.00 L86.68,84.00 C87.86,67.28 102.42,24.72 106.35,8.00 L106.35,8.00 Z" fill="url(#g98dcdc)" stroke="#444" stroke-opacity="0.45" stroke-width="0.30"/>
<path d="M104.09,8.00 L104.09,8.00 C100.53,24.72 87.33,67.28 86.26,84.00 L86.26,88.00 L87.19,88.00 L87.19,84.00 C88.29,67.28 101.87,24.72 105.54,8.00 L105.54,8.00 Z" fill="url(#g98dcdc)" stroke="#444" stroke-opacity="0.45" stroke-width="0.30"/>
<path d="M48.28,8.00 L48.28,8.00 C55.98,24.72 84.47,67.28 86.78,84.00 L86.78,88.00 L87.71,88.00 L87.71,84.00 C85.43,67.28 57.32,24.72 49.72,8.00 L49.72,8.00 Z" fill="url(#gab9cc6)" stroke="#444" stroke-opacity="0.45" stroke-width="0.30"/>
<path d="M37.89,8.00 L37.89,8.00 C47.77,24.72 84.33,67.28 87.30,84.00 L87.30,88.00 L88.23,88.00 L88.23,84.00 C85.29,67.28 49.10,24.72 39.32,8.00 L39.32,8.00 Z" fill="url(#g86cfab)" stroke="#444" stroke-opacity="0.45" stroke-width="0.30"/>
<path d="M140.67,8.00 L140.67,8.00 C130.29,24.72 91.90,67.28 88.79,84.00 L88.79,88.00 L89.72,88.00 L89.72,84.00 C92.87,67.28 131.68,24.72 142.17,8.00 L142.17,8.00 Z" fill="url(#gb6c8de)" stroke="#444" stroke-opacity="0.45" stroke-width="0.30"/>
<path d="M125.67,8.00 L125.67,8.00 C118.40,24.72 91.49,67.28 89.31,84.00 L89.31,88.00 L90.24,88.00 L90.24,84.00 C92.45,67.28 119.72,24.72 127.09,8.00 L127.09,8.00 Z" fill="url(#gc98797)" stroke="#444" stroke-opacity="0.45" stroke-width="0.30"/>
<path d="M77.48,8.00 L77.48,8.00 C79.94,24.72 89.08,67.28 89.82,84.00 L89.82,88.00 L90.76,88.00 L90.76,84.00 C90.04,67.28 81.27,24.72 78.90,8.00 L78.90,8.00 Z" fill="url(#gf5da88)" stroke="#444" stroke-opacity="0.45" stroke-width="0.30"/>
<path d="M69.61,8.00 L69.61,8.00 C73.76,24.72 89.10,67.28 90.34,84.00 L90.34,88.00 L91.27,88.00 L91.27,84.00 C90.06,67.28 75.08,24.72 71.03,8.00 L71.03,8.00 Z" fill="url(#gc9a99a)" stroke="#444" stroke-opacity="0.45" stroke-width="0.30"/>
<path d="M60.19,8.00 L60.19,8.00 C66.52,24.72 89.94,67.28 91.84,84.00 L91.84,88.00 L92.77,88.00 L92.77,84.00 C90.90,67.28 67.83,24.72 61.60,8.00 L61.60,8.00 Z" fill="url(#gc9a99a)" stroke="#444" stroke-opacity="0.45" stroke-width="0.30"/>
<path d="M116.18,8.00 L116.18,8.00 C111.42,24.72 93.78,67.28 92.35,84.00 L92.35,88.00 L93.28,88.00 L93.28,84.00 C94.74,67.28 112.74,24.72 117.61,8.00 L117.61,8.00 Z" fill="url(#gc98797)" stroke="#444" stroke-opacity="0.45" stroke-width="0.30"/>
<path d="M99.45,8.00 L99.45,8.00 C98.13,24.72 93.27,67.28 92.87,84.00 L92.87,88.00 L93.80,88.00 L93.80,84.00 C94.22,67.28 99.40,24.72 100.80,8.00 L100.80,8.00 Z" fill="url(#g72c09e)" stroke="#444" stroke-opacity="0.45" stroke-width="0.30"/>
<path d="M78.27,8.00 L78.27,8.00 C81.49,24.72 93.40,67.28 94.37,84.00 L94.37,88.00 L95.30,88.00 L95.30,84.00 C94.36,67.28 82.81,24.72 79.69,8.00 L79.69,8.00 Z" fill="url(#gf5da88)" stroke="#444" stroke-opacity="0.45" stroke-width="0.30"/>
<path d="M54.69,8.00 L54.69,8.00 C62.73,24.72 92.47,67.28 94.88,84.00 L94.88,88.00 L95.81,88.00 L95.81,84.00 C93.43,67.28 64.04,24.72 56.10,8.00 L56.10,8.00 Z" fill="url(#gc9a99a)" stroke="#444" stroke-opacity="0.45" stroke-width="0.30"/>
<path d="M41.88,8.00 L41.88,8.00 C52.58,24.72 92.19,67.28 95.40,84.00 L95.40,88.00 L96.33,88.00 L96.33,84.00 C93.15,67.28 53.92,24.72 43.32,8.00 L43.32,8.00 Z" fill="url(#ge893b8)" stroke="#444" stroke-opacity="0.45" stroke-width="0.30"/>
<path d="M95.70,8.00 L95.70,8.00 C95.74,24.72 95.90,67.28 95.92,84.00 L95.92,88.00 L96.85,88.00 L96.85,84.00 C96.86,67.28 97.01,24.72 97.05,8.00 L97.05,8.00 Z" fill="url(#g72c09e)" stroke="#444" stroke-opacity="0.45" stroke-width="0.30"/>
<path d="M73.54,8.00 L73.54,8.00 C78.32,24.72 95.98,67.28 97.41,84.00 L97.41,88.00 L98.34,88.00 L98.34,84.00 C96.94,67.28 79.63,24.72 74.96,8.00 L74.96,8.00 Z" fill="url(#gc9a99a)" stroke="#444" stroke-opacity="0.45" stroke-width="0.30"/>
<path d="M36.30,8.00 L36.30,8.00 C48.63,24.72 94.23,67.28 97.93,84.00 L97.93,88.00 L98.86,88.00 L98.86,84.00 C95.19,67.28 49.96,24.72 37.73,8.00 L37.73,8.00 Z" fill="url(#g86cfab)" stroke="#444" stroke-opacity="0.45" stroke-width="0.30"/>
<path d="M138.31,8.00 L138.31,8.00 C130.34,24.72 100.84,67.28 98.45,84.00 L98.45,88.00 L99.38,88.00 L99.38,84.00 C101.80,67.28 131.66,24.72 139.74,8.00 L139.74,8.00 Z" fill="url(#gc98797)" stroke="#444" stroke-opacity="0.45" stroke-width="0.30"/>
<path d="M118.55,8.00 L118.55,8.00 C114.83,24.72 101.06,67.28 99.94,84.00 L99.94,88.00 L100.87,88.00 L100.87,84.00 C102.02,67.28 116.16,24.72 119.98,8.00 L119.98,8.00 Z" fill="url(#gc98797)" stroke="#444" stroke-opacity="0.45" stroke-width="0.30"/>
<path d="M79.06,8.00 L79.06,8.00 C83.34,24.72 99.18,67.28 100.46,84.00 L100.46,88.00 L101.39,88.00 L101.39,84.00 C100.14,67.28 84.66,24.72 80.48,8.00 L80.48,8.00 Z" fill="url(#gf5da88)" stroke="#444" stroke-opacity="0.45" stroke-width="0.30"/>
<path d="M124.09,8.00 L124.09,8.00 C119.47,24.72 102.36,67.28 100.98,84.00 L100.98,88.00 L101.91,88.00 L101.91,84.00 C103.32,67.28 120.79,24.72 125.51,8.00 L125.51,8.00 Z" fill="url(#gc98797)" stroke="#444" stroke-opacity="0.45" stroke-width="0.30"/>
<path d="M62.54,8.00 L62.54,8.00 C70.33,24.72 99.16,67.28 101.49,84.00 L101.49,88.00 L102.42,88.00 L102.42,84.00 C100.12,67.28 71.65,24.72 63.96,8.00 L63.96,8.00 Z" fill="url(#gc9a99a)" stroke="#444" stroke-opacity="0.45" stroke-width="0.30"/>
<path d="M57.83,8.00 L57.83,8.00 C66.86,24.72 100.28,67.28 102.99,84.00 L102.99,88.00 L103.92,88.00 L103.92,84.00 C101.24,67.28 68.18,24.72 59.24,8.00 L59.24,8.00 Z" fill="url(#gc9a99a)" stroke="#444" stroke-opacity="0.45" stroke-width="0.30"/>
<path d="M147.31,8.00 L147.31,8.00 C138.55,24.72 106.14,67.28 103.51,84.00 L103.51,88.00 L104.44,88.00 L104.44,84.00 C107.10,67.28 139.92,24.72 148.79,8.00 L148.79,8.00 Z" fill="url(#ga398ae)" stroke="#444" stroke-opacity="0.45" stroke-width="0.30"/>
<path d="M94.10,8.00 L94.10,8.00 C96.08,24.72 103.43,67.28 104.02,84.00 L104.02,88.00 L104.95,88.00 L104.95,84.00 C104.39,67.28 97.41,24.72 95.52,8.00 L95.52,8.00 Z" fill="url(#gf5da88)" stroke="#444" stroke-opacity="0.45" stroke-width="0.30"/>
<path d="M137.52,8.00 L137.52,8.00 C131.12,24.72 107.44,67.28 105.52,84.00 L105.52,88.00 L106.45,88.00 L106.45,84.00 C108.40,67.28 132.45,24.72 138.95,8.00 L138.95,8.00 Z" fill="url(#gc98797)" stroke="#444" stroke-opacity="0.45" stroke-width="0.30"/>
<path d="M148.14,8.00 L148.14,8.00 C139.72,24.72 108.56,67.28 106.04,84.00 L106.04,88.00 L106.97,88.00 L106.97,84.00 C109.53,67.28 141.08,24.72 149.61,8.00 L149.61,8.00 Z" fill="url(#ga398ae)" stroke="#444" stroke-opacity="0.45" stroke-width="0.30"/>
<path d="M113.76,8.00 L113.76,8.00 C112.32,24.72 106.99,67.28 106.55,84.00 L106.55,88.00 L107.48,88.00 L107.48,84.00 C107.95,67.28 113.67,24.72 115.21,8.00 L115.21,8.00 Z" fill="url(#g98dcdc)" stroke="#444" stroke-opacity="0.45" stroke-width="0.30"/>
<path d="M71.19,8.00 L71.19,8.00 C78.36,24.72 104.92,67.28 107.07,84.00 L107.07,88.00 L108.00,88.00 L108.00,84.00 C105.88,67.28 79.68,24.72 72.60,8.00 L72.60,8.00 Z" fill="url(#gc9a99a)" stroke="#444" stroke-opacity="0.45" stroke-width="0.30"/>
<path d="M114.57,8.00 L114.57,8.00 C113.37,24.72 108.93,67.28 108.57,84.00 L108.57,88.00 L109.50,88.00 L109.50,84.00 C109.89,67.28 114.71,24.72 116.02,8.00 L116.02,8.00 Z" fill="url(#g98dcdc)" stroke="#444" stroke-opacity="0.45" stroke-width="0.30"/>
<path d="M139.10,8.00 L139.10,8.00 C133.10,24.72 110.88,67.28 109.08,84.00 L109.08,88.00 L110.01,88.00 L110.01,84.00 C111.84,67.28 134.42,24.72 140.53,8.00 L140.53,8.00 Z" fill="url(#gc98797)" stroke="#444" stroke-opacity="0.45" stroke-width="0.30"/>
<path d="M81.43,8.00 L81.43,8.00 C87.07,24.72 107.91,67.28 109.60,84.00 L109.60,88.00 L110.53,88.00 L110.53,84.00 C108.87,67.28 88.39,24.72 82.86,8.00 L82.86,8.00 Z" fill="url(#gf5da88)" stroke="#444" stroke-opacity="0.45" stroke-width="0.30"/>
<path d="M143.17,8.00 L143.17,8.00 C136.75,24.72 113.02,67.28 111.10,84.00 L111.10,88.00 L112.03,88.00 L112.03,84.00 C113.99,67.28 138.14,24.72 144.67,8.00 L144.67,8.00 Z" fill="url(#gb6c8de)" stroke="#444" stroke-opacity="0.45" stroke-width="0.30"/>
<path d="M82.23,8.00 L82.23,8.00 C88.10,24.72 109.85,67.28 111.61,84.00 L111.61,88.00 L112.54,88.00 L112.54,84.00 C110.81,67.28 89.43,24.72 83.65,8.00 L83.65,8.00 Z" fill="url(#gf5da88)" stroke="#444" stroke-opacity="0.45" stroke-width="0.30"/>
<path d="M85.39,8.00 L85.39,8.00 C90.74,24.72 110.53,67.28 112.13,84.00 L112.13,88.00 L113.06,88.00 L113.06,84.00 C111.49,67.28 92.07,24.72 86.82,8.00 L86.82,8.00 Z" fill="url(#gf5da88)" stroke="#444" stroke-opacity="0.45" stroke-width="0.30"/>
<path d="M57.04,8.00 L57.04,8.00 C68.16,24.72 109.31,67.28 112.65,84.00 L112.65,88.00 L113.58,88.00 L113.58,84.00 C110.27,67.28 69.48,24.72 58.46,8.00 L58.46,8.00 Z" fill="url(#gc9a99a)" stroke="#444" stroke-opacity="0.45" stroke-width="0.30"/>
<path d="M80.64,8.00 L80.64,8.00 C87.34,24.72 112.13,67.28 114.14,84.00 L114.14,88.00 L115.07,88.00 L115.07,84.00 C113.09,67.28 88.67,24.72 82.07,8.00 L82.07,8.00 Z" fill="url(#gf5da88)" stroke="#444" stroke-opacity="0.45" stroke-width="0.30"/>
<path d="M116.97,8.00 L116.97,8.00 C116.51,24.72 114.80,67.28 114.66,84.00 L114.66,88.00 L115.59,88.00 L115.59,84.00 C115.76,67.28 117.84,24.72 118.40,8.00 L118.40,8.00 Z" fill="url(#gc98797)" stroke="#444" stroke-opacity="0.45" stroke-width="0.30"/>
<path d="M156.35,8.00 L156.35,8.00 C148.12,24.72 117.65,67.28 115.18,84.00 L115.18,88.00 L116.11,88.00 L116.11,84.00 C118.61,67.28 149.48,24.72 157.83,8.00 L157.83,8.00 Z" fill="url(#ga398ae)" stroke="#444" stroke-opacity="0.45" stroke-width="0.30"/>
<path d="M112.96,8.00 L112.96,8.00 C113.70,24.72 116.45,67.28 116.67,84.00 L116.67,88.00 L117.60,88.00 L117.60,84.00 C117.41,67.28 115.05,24.72 114.41,8.00 L114.41,8.00 Z" fill="url(#g98dcdc)" stroke="#444" stroke-opacity="0.45" stroke-width="0.30"/>
<path d="M92.52,8.00 L92.52,8.00 C97.45,24.72 115.71,67.28 117.19,84.00 L117.19,88.00 L118.12,88.00 L118.12,84.00 C116.67,67.28 98.78,24.72 93.94,8.00 L93.94,8.00 Z" fill="url(#gf5da88)" stroke="#444" stroke-opacity="0.45" stroke-width="0.30"/>
<path d="M58.61,8.00 L58.61,8.00 C70.43,24.72 114.16,67.28 117.71,84.00 L117.71,88.00 L118.64,88.00 L118.64,84.00 C115.12,67.28 71.75,24.72 60.03,8.00 L60.03,8.00 Z" fill="url(#gc9a99a)" stroke="#444" stroke-opacity="0.45" stroke-width="0.30"/>
<path d="M129.62,8.00 L129.62,8.00 C127.34,24.72 118.91,67.28 118.22,84.00 L118.22,88.00 L119.15,88.00 L119.15,84.00 C119.87,67.28 128.66,24.72 131.04,8.00 L131.04,8.00 Z" fill="url(#gc98797)" stroke="#444" stroke-opacity="0.45" stroke-width="0.30"/>
<path d="M121.72,8.00 L121.72,8.00 C121.32,24.72 119.84,67.28 119.72,84.00 L119.72,88.00 L120.65,88.00 L120.65,84.00 C120.80,67.28 122.64,24.72 123.14,8.00 L123.14,8.00 Z" fill="url(#gc98797)" stroke="#444" stroke-opacity="0.45" stroke-width="0.30"/>
<path d="M159.78,8.00 L159.78,8.00 C151.87,24.72 122.61,67.28 120.24,84.00 L120.24,88.00 L121.17,88.00 L121.17,84.00 C123.58,67.28 153.31,24.72 161.35,8.00 L161.35,8.00 Z" fill="url(#g78c4a0)" stroke="#444" stroke-opacity="0.45" stroke-width="0.30"/>
<path d="M131.20,8.00 L131.20,8.00 C129.11,24.72 121.38,67.28 120.75,84.00 L120.75,88.00 L121.68,88.00 L121.68,84.00 C122.34,67.28 130.43,24.72 132.62,8.00 L132.62,8.00 Z" fill="url(#gc98797)" stroke="#444" stroke-opacity="0.45" stroke-width="0.30"/>
<path d="M94.89,8.00 L94.89,8.00 C100.36,24.72 120.61,67.28 122.25,84.00 L122.25,88.00 L123.18,88.00 L123.18,84.00 C121.57,67.28 101.69,24.72 96.32,8.00 L96.32,8.00 Z" fill="url(#gf5da88)" stroke="#444" stroke-opacity="0.45" stroke-width="0.30"/>
<path d="M133.57,8.00 L133.57,8.00 C131.41,24.72 123.41,67.28 122.77,84.00 L122.77,88.00 L123.70,88.00 L123.70,84.00 C124.37,67.28 132.73,24.72 134.99,8.00 L134.99,8.00 Z" fill="url(#gc98797)" stroke="#444" stroke-opacity="0.45" stroke-width="0.30"/>
<path d="M126.46,8.00 L126.46,8.00 C125.82,24.72 123.47,67.28 123.28,84.00 L123.28,88.00 L124.21,88.00 L124.21,84.00 C124.43,67.28 127.15,24.72 127.88,8.00 L127.88,8.00 Z" fill="url(#gc98797)" stroke="#444" stroke-opacity="0.45" stroke-width="0.30"/>
<path d="M154.71,8.00 L154.71,8.00 C148.53,24.72 125.65,67.28 123.80,84.00 L123.80,88.00 L124.73,88.00 L124.73,84.00 C126.62,67.28 149.89,24.72 156.19,8.00 L156.19,8.00 Z" fill="url(#ga398ae)" stroke="#444" stroke-opacity="0.45" stroke-width="0.30"/>
<path d="M158.90,8.00 L158.90,8.00 C152.18,24.72 127.31,67.28 125.30,84.00 L125.30,88.00 L126.23,88.00 L126.23,84.00 C128.28,67.28 153.63,24.72 160.47,8.00 L160.47,8.00 Z" fill="url(#g78c4a0)" stroke="#444" stroke-opacity="0.45" stroke-width="0.30"/>
<path d="M45.88,8.00 L45.88,8.00 C61.87,24.72 121.02,67.28 125.81,84.00 L125.81,88.00 L126.74,88.00 L126.74,84.00 C121.98,67.28 63.20,24.72 47.32,8.00 L47.32,8.00 Z" fill="url(#gab9cc6)" stroke="#444" stroke-opacity="0.45" stroke-width="0.30"/>
<path d="M157.15,8.00 L157.15,8.00 C150.99,24.72 128.18,67.28 126.33,84.00 L126.33,88.00 L127.26,88.00 L127.26,84.00 C129.15,67.28 152.43,24.72 158.72,8.00 L158.72,8.00 Z" fill="url(#g78c4a0)" stroke="#444" stroke-opacity="0.45" stroke-width="0.30"/>
<path d="M130.41,8.00 L130.41,8.00 C129.89,24.72 127.98,67.28 127.83,84.00 L127.83,88.00 L128.76,88.00 L128.76,84.00 C128.94,67.28 131.22,24.72 131.83,8.00 L131.83,8.00 Z" fill="url(#gc98797)" stroke="#444" stroke-opacity="0.45" stroke-width="0.30"/>
<path d="M135.94,8.00 L135.94,8.00 C134.42,24.72 128.80,67.28 128.34,84.00 L128.34,88.00 L129.27,88.00 L129.27,84.00 C129.76,67.28 135.75,24.72 137.36,8.00 L137.36,8.00 Z" fill="url(#gc98797)" stroke="#444" stroke-opacity="0.45" stroke-width="0.30"/>
<path d="M87.77,8.00 L87.77,8.00 C95.99,24.72 126.39,67.28 128.86,84.00 L128.86,88.00 L129.79,88.00 L129.79,84.00 C127.35,67.28 97.31,24.72 89.19,8.00 L89.19,8.00 Z" fill="url(#gf5da88)" stroke="#444" stroke-opacity="0.45" stroke-width="0.30"/>
<path d="M115.37,8.00 L115.37,8.00 C118.17,24.72 128.54,67.28 129.38,84.00 L129.38,88.00 L130.31,88.00 L130.31,84.00 C129.50,67.28 119.52,24.72 116.82,8.00 L116.82,8.00 Z" fill="url(#g98dcdc)" stroke="#444" stroke-opacity="0.45" stroke-width="0.30"/>
<path d="M75.90,8.00 L75.90,8.00 C86.89,24.72 127.57,67.28 130.87,84.00 L130.87,88.00 L131.80,88.00 L131.80,84.00 C128.53,67.28 88.21,24.72 77.31,8.00 L77.31,8.00 Z" fill="url(#gc9a99a)" stroke="#444" stroke-opacity="0.45" stroke-width="0.30"/>
<path d="M110.54,8.00 L110.54,8.00 C114.71,24.72 130.14,67.28 131.39,84.00 L131.39,88.00 L132.32,88.00 L132.32,84.00 C131.10,67.28 116.05,24.72 111.99,8.00 L111.99,8.00 Z" fill="url(#g98dcdc)" stroke="#444" stroke-opacity="0.45" stroke-width="0.30"/>
<path d="M117.76,8.00 L117.76,8.00 C120.59,24.72 131.06,67.28 131.91,84.00 L131.91,88.00 L132.84,88.00 L132.84,84.00 C132.02,67.28 121.92,24.72 119.19,8.00 L119.19,8.00 Z" fill="url(#gc98797)" stroke="#444" stroke-opacity="0.45" stroke-width="0.30"/>
<path d="M120.14,8.00 L120.14,8.00 C122.79,24.72 132.61,67.28 133.40,84.00 L133.40,88.00 L134.33,88.00 L134.33,84.00 C133.57,67.28 124.11,24.72 121.56,8.00 L121.56,8.00 Z" fill="url(#gc98797)" stroke="#444" stroke-opacity="0.45" stroke-width="0.30"/>
<path d="M84.60,8.00 L84.60,8.00 C94.46,24.72 130.96,67.28 133.92,84.00 L133.92,88.00 L134.85,88.00 L134.85,84.00 C131.92,67.28 95.79,24.72 86.03,8.00 L86.03,8.00 Z" fill="url(#gf5da88)" stroke="#444" stroke-opacity="0.45" stroke-width="0.30"/>
<path d="M50.68,8.00 L50.68,8.00 C67.43,24.72 129.41,67.28 134.44,84.00 L134.44,88.00 L135.37,88.00 L135.37,84.00 C130.37,67.28 68.77,24.72 52.12,8.00 L52.12,8.00 Z" fill="url(#gab9cc6)" stroke="#444" stroke-opacity="0.45" stroke-width="0.30"/>
<path d="M148.96,8.00 L148.96,8.00 C146.16,24.72 135.79,67.28 134.95,84.00 L134.95,88.00 L135.88,88.00 L135.88,84.00 C136.76,67.28 147.53,24.72 150.44,8.00 L150.44,8.00 Z" fill="url(#ga398ae)" stroke="#444" stroke-opacity="0.45" stroke-width="0.30"/>
<path d="M76.68,8.00 L76.68,8.00 C88.64,24.72 132.86,67.28 136.45,84.00 L136.45,88.00 L137.38,88.00 L137.38,84.00 C133.82,67.28 89.96,24.72 78.11,8.00 L78.11,8.00 Z" fill="url(#gf5da88)" stroke="#444" stroke-opacity="0.45" stroke-width="0.30"/>
<path d="M90.14,8.00 L90.14,8.00 C99.51,24.72 134.16,67.28 136.96,84.00 L136.96,88.00 L137.90,88.00 L137.90,84.00 C135.12,67.28 100.83,24.72 91.57,8.00 L91.57,8.00 Z" fill="url(#gf5da88)" stroke="#444" stroke-opacity="0.45" stroke-width="0.30"/>
<path d="M153.06,8.00 L153.06,8.00 C149.95,24.72 138.42,67.28 137.48,84.00 L137.48,88.00 L138.41,88.00 L138.41,84.00 C139.38,67.28 151.32,24.72 154.54,8.00 L154.54,8.00 Z" fill="url(#ga398ae)" stroke="#444" stroke-opacity="0.45" stroke-width="0.30"/>
<path d="M100.95,8.00 L100.95,8.00 C108.56,24.72 136.70,67.28 138.98,84.00 L138.98,88.00 L139.91,88.00 L139.91,84.00 C137.65,67.28 109.82,24.72 102.30,8.00 L102.30,8.00 Z" fill="url(#g72c09e)" stroke="#444" stroke-opacity="0.45" stroke-width="0.30"/>
<path d="M119.35,8.00 L119.35,8.00 C123.38,24.72 138.29,67.28 139.49,84.00 L139.49,88.00 L140.42,88.00 L140.42,84.00 C139.25,67.28 124.70,24.72 120.77,8.00 L120.77,8.00 Z" fill="url(#gc98797)" stroke="#444" stroke-opacity="0.45" stroke-width="0.30"/>
<path d="M67.26,8.00 L67.26,8.00 C81.81,24.72 135.65,67.28 140.01,84.00 L140.01,88.00 L140.94,88.00 L140.94,84.00 C136.61,67.28 83.13,24.72 68.67,8.00 L68.67,8.00 Z" fill="url(#gc9a99a)" stroke="#444" stroke-opacity="0.45" stroke-width="0.30"/>
<path d="M112.15,8.00 L112.15,8.00 C117.83,24.72 138.83,67.28 140.53,84.00 L140.53,88.00 L141.46,88.00 L141.46,84.00 C139.79,67.28 119.17,24.72 113.60,8.00 L113.60,8.00 Z" fill="url(#g98dcdc)" stroke="#444" stroke-opacity="0.45" stroke-width="0.30"/>
<path d="M132.78,8.00 L132.78,8.00 C134.63,24.72 141.47,67.28 142.02,84.00 L142.02,88.00 L142.95,88.00 L142.95,84.00 C142.43,67.28 135.95,24.72 134.20,8.00 L134.20,8.00 Z" fill="url(#gc98797)" stroke="#444" stroke-opacity="0.45" stroke-width="0.30"/>
<path d="M98.70,8.00 L98.70,8.00 C107.47,24.72 139.91,67.28 142.54,84.00 L142.54,88.00 L143.47,88.00 L143.47,84.00 C140.87,67.28 108.73,24.72 100.05,8.00 L100.05,8.00 Z" fill="url(#g72c09e)" stroke="#444" stroke-opacity="0.45" stroke-width="0.30"/>
<path d="M59.40,8.00 L59.40,8.00 C76.13,24.72 138.04,67.28 143.06,84.00 L143.06,88.00 L143.99,88.00 L143.99,84.00 C139.00,67.28 77.45,24.72 60.81,8.00 L60.81,8.00 Z" fill="url(#gc9a99a)" stroke="#444" stroke-opacity="0.45" stroke-width="0.30"/>
<path d="M158.03,8.00 L158.03,8.00 C155.33,24.72 145.36,67.28 144.55,84.00 L144.55,88.00 L145.48,88.00 L145.48,84.00 C146.33,67.28 156.78,24.72 159.60,8.00 L159.60,8.00 Z" fill="url(#g78c4a0)" stroke="#444" stroke-opacity="0.45" stroke-width="0.30"/>
<path d="M96.45,8.00 L96.45,8.00 C106.17,24.72 142.15,67.28 145.07,84.00 L145.07,88.00 L146.00,88.00 L146.00,84.00 C143.11,67.28 107.44,24.72 97.80,8.00 L97.80,8.00 Z" fill="url(#g72c09e)" stroke="#444" stroke-opacity="0.45" stroke-width="0.30"/>
<path d="M83.81,8.00 L83.81,8.00 C96.16,24.72 141.88,67.28 145.59,84.00 L145.59,88.00 L146.52,88.00 L146.52,84.00 C142.84,67.28 97.49,24.72 85.23,8.00 L85.23,8.00 Z" fill="url(#gf5da88)" stroke="#444" stroke-opacity="0.45" stroke-width="0.30"/>
<path d="M70.40,8.00 L70.40,8.00 C85.54,24.72 141.56,67.28 146.10,84.00 L146.10,88.00 L147.03,88.00 L147.03,84.00 C142.52,67.28 86.86,24.72 71.81,8.00 L71.81,8.00 Z" fill="url(#gc9a99a)" stroke="#444" stroke-opacity="0.45" stroke-width="0.30"/>
<path d="M149.78,8.00 L149.78,8.00 C149.34,24.72 147.73,67.28 147.60,84.00 L147.60,88.00 L148.53,88.00 L148.53,84.00 C148.69,67.28 150.71,24.72 151.26,8.00 L151.26,8.00 Z" fill="url(#ga398ae)" stroke="#444" stroke-opacity="0.45" stroke-width="0.30"/>
<path d="M151.42,8.00 L151.42,8.00 C150.76,24.72 148.32,67.28 148.12,84.00 L148.12,88.00 L149.05,88.00 L149.05,84.00 C149.28,67.28 152.13,24.72 152.90,8.00 L152.90,8.00 Z" fill="url(#ga398ae)" stroke="#444" stroke-opacity="0.45" stroke-width="0.30"/>
<path d="M124.88,8.00 L124.88,8.00 C129.63,24.72 147.21,67.28 148.63,84.00 L148.63,88.00 L149.56,88.00 L149.56,84.00 C148.17,67.28 130.95,24.72 126.30,8.00 L126.30,8.00 Z" fill="url(#gc98797)" stroke="#444" stroke-opacity="0.45" stroke-width="0.30"/>
<path d="M111.34,8.00 L111.34,8.00 C119.10,24.72 147.80,67.28 150.13,84.00 L150.13,88.00 L151.06,88.00 L151.06,84.00 C148.76,67.28 120.45,24.72 112.79,8.00 L112.79,8.00 Z" fill="url(#g98dcdc)" stroke="#444" stroke-opacity="0.45" stroke-width="0.30"/>
<path d="M155.53,8.00 L155.53,8.00 C154.55,24.72 150.94,67.28 150.65,84.00 L150.65,88.00 L151.58,88.00 L151.58,84.00 C151.90,67.28 155.92,24.72 157.01,8.00 L157.01,8.00 Z" fill="url(#ga398ae)" stroke="#444" stroke-opacity="0.45" stroke-width="0.30"/>
<path d="M144.83,8.00 L144.83,8.00 C146.10,24.72 150.78,67.28 151.16,84.00 L151.16,88.00 L152.09,88.00 L152.09,84.00 C151.75,67.28 147.49,24.72 146.33,8.00 L146.33,8.00 Z" fill="url(#gb6c8de)" stroke="#444" stroke-opacity="0.45" stroke-width="0.30"/>
<path d="M108.12,8.00 L108.12,8.00 C116.83,24.72 149.07,67.28 151.68,84.00 L151.68,88.00 L152.61,88.00 L152.61,84.00 C150.03,67.28 118.18,24.72 109.57,8.00 L109.57,8.00 Z" fill="url(#g98dcdc)" stroke="#444" stroke-opacity="0.45" stroke-width="0.30"/>
<path d="M79.85,8.00 L79.85,8.00 C94.52,24.72 148.78,67.28 153.18,84.00 L153.18,88.00 L154.11,88.00 L154.11,84.00 C149.74,67.28 95.84,24.72 81.28,8.00 L81.28,8.00 Z" fill="url(#gf5da88)" stroke="#444" stroke-opacity="0.45" stroke-width="0.30"/>
<path d="M144.00,8.00 L144.00,8.00 C145.94,24.72 153.11,67.28 153.69,84.00 L153.69,88.00 L154.62,88.00 L154.62,84.00 C154.08,67.28 147.32,24.72 145.50,8.00 L145.50,8.00 Z" fill="url(#gb6c8de)" stroke="#444" stroke-opacity="0.45" stroke-width="0.30"/>
<path d="M141.50,8.00 L141.50,8.00 C144.04,24.72 153.45,67.28 154.21,84.00 L154.21,88.00 L155.14,88.00 L155.14,84.00 C154.41,67.28 145.43,24.72 143.00,8.00 L143.00,8.00 Z" fill="url(#gb6c8de)" stroke="#444" stroke-opacity="0.45" stroke-width="0.30"/>
<path d="M106.51,8.00 L106.51,8.00 C116.35,24.72 152.75,67.28 155.71,84.00 L155.71,88.00 L156.64,88.00 L156.64,84.00 C153.72,67.28 117.70,24.72 107.96,8.00 L107.96,8.00 Z" fill="url(#g98dcdc)" stroke="#444" stroke-opacity="0.45" stroke-width="0.30"/>
<path d="M101.68,8.00 L101.68,8.00 C112.59,24.72 152.95,67.28 156.22,84.00 L156.22,88.00 L157.15,88.00 L157.15,84.00 C153.91,67.28 113.93,24.72 103.13,8.00 L103.13,8.00 Z" fill="url(#g98dcdc)" stroke="#444" stroke-opacity="0.45" stroke-width="0.30"/>
<path d="M91.73,8.00 L91.73,8.00 C104.73,24.72 152.84,67.28 156.74,84.00 L156.74,88.00 L157.67,88.00 L157.67,84.00 C153.80,67.28 106.05,24.72 93.15,8.00 L93.15,8.00 Z" fill="url(#gf5da88)" stroke="#444" stroke-opacity="0.45" stroke-width="0.30"/>
<path d="M145.67,8.00 L145.67,8.00 C147.99,24.72 156.56,67.28 157.26,84.00 L157.26,88.00 L158.19,88.00 L158.19,84.00 C157.53,67.28 149.36,24.72 147.15,8.00 L147.15,8.00 Z" fill="url(#ga398ae)" stroke="#444" stroke-opacity="0.45" stroke-width="0.30"/>
<path d="M127.25,8.00 L127.25,8.00 C133.55,24.72 156.86,67.28 158.75,84.00 L158.75,88.00 L159.68,88.00 L159.68,84.00 C157.82,67.28 134.87,24.72 128.67,8.00 L128.67,8.00 Z" fill="url(#gc98797)" stroke="#444" stroke-opacity="0.45" stroke-width="0.30"/>
<path d="M120.93,8.00 L120.93,8.00 C128.59,24.72 156.97,67.28 159.27,84.00 L159.27,88.00 L160.20,88.00 L160.20,84.00 C157.93,67.28 129.92,24.72 122.35,8.00 L122.35,8.00 Z" fill="url(#gc98797)" stroke="#444" stroke-opacity="0.45" stroke-width="0.30"/>
<path d="M135.15,8.00 L135.15,8.00 C140.08,24.72 158.31,67.28 159.79,84.00 L159.79,88.00 L160.72,88.00 L160.72,84.00 C159.27,67.28 141.40,24.72 136.57,8.00 L136.57,8.00 Z" fill="url(#gc98797)" stroke="#444" stroke-opacity="0.45" stroke-width="0.30"/>
<rect x="15.3" y="8" width="1.8" height="80" fill="#86cfab" fill-opacity="0.85"/>
<path d="M15.20,8 L39.00,8 L39.00,11.00 C39.00,14.50 30.67,18.00 27.10,18.00 C23.53,18.00 15.20,14.50 15.20,11.00 Z" fill="#86cfab" fill-opacity="0.52"/>
<path d="M39.00,8 L43.00,8 L43.00,10.28 C43.00,12.94 41.60,15.60 41.00,15.60 C40.40,15.60 39.00,12.94 39.00,10.28 Z" fill="#e893b8" fill-opacity="0.75"/>
<path d="M43.00,8 L55.00,8 L55.00,12.44 C55.00,17.62 50.80,22.80 49.00,22.80 C47.20,22.80 43.00,17.62 43.00,12.44 Z" fill="#ab9cc6" fill-opacity="0.75"/>
<path d="M55.00,8 L77.00,8 L77.00,15.14 C77.00,23.47 69.30,31.80 66.00,31.80 C62.70,31.80 55.00,23.47 55.00,15.14 Z" fill="#c9a99a" fill-opacity="0.75"/>
<path d="M77.00,8 L96.00,8 L96.00,14.33 C96.00,21.71 89.35,29.10 86.50,29.10 C83.65,29.10 77.00,21.71 77.00,14.33 Z" fill="#f5da88" fill-opacity="0.75"/>
<path d="M96.00,8 L102.00,8 L102.00,10.82 C102.00,14.11 99.90,17.40 99.00,17.40 C98.10,17.40 96.00,14.11 96.00,10.82 Z" fill="#72c09e" fill-opacity="0.75"/>
<path d="M102.00,8 L116.50,8 L116.50,13.12 C116.50,19.08 111.42,25.05 109.25,25.05 C107.08,25.05 102.00,19.08 102.00,13.12 Z" fill="#98dcdc" fill-opacity="0.75"/>
<path d="M116.50,8 L141.00,8 L141.00,15.81 C141.00,24.93 132.43,34.05 128.75,34.05 C125.08,34.05 116.50,24.93 116.50,15.81 Z" fill="#c98797" fill-opacity="0.75"/>
<path d="M141.00,8 L146.00,8 L146.00,10.55 C146.00,13.53 144.25,16.50 143.50,16.50 C142.75,16.50 141.00,13.53 141.00,10.55 Z" fill="#b6c8de" fill-opacity="0.75"/>
<path d="M146.00,8 L157.50,8 L157.50,12.30 C157.50,17.33 153.47,22.35 151.75,22.35 C150.03,22.35 146.00,17.33 146.00,12.30 Z" fill="#a398ae" fill-opacity="0.75"/>
<path d="M157.50,8 L161.00,8 L161.00,10.14 C161.00,12.65 159.78,15.15 159.25,15.15 C158.72,15.15 157.50,12.65 157.50,10.14 Z" fill="#78c4a0" fill-opacity="0.75"/>
<rect x="15.50" y="88" width="2.80" height="8.5" fill="#aca2bf" stroke="#8a8a8a" stroke-opacity="0.5" stroke-width="0.25"/>
<rect x="18.30" y="88" width="2.80" height="8.5" fill="#c1aba0" stroke="#8a8a8a" stroke-opacity="0.5" stroke-width="0.25"/>
<rect x="21.10" y="88" width="2.80" height="8.5" fill="#e0cd94" stroke="#8a8a8a" stroke-opacity="0.5" stroke-width="0.25"/>
<rect x="23.89" y="88" width="2.80" height="8.5" fill="#c1aba0" stroke="#8a8a8a" stroke-opacity="0.5" stroke-width="0.25"/>
<rect x="26.69" y="88" width="2.80" height="8.5" fill="#92c5ac" stroke="#8a8a8a" stroke-opacity="0.5" stroke-width="0.25"/>
<rect x="29.49" y="88" width="2.80" height="8.5" fill="#c1aba0" stroke="#8a8a8a" stroke-opacity="0.5" stroke-width="0.25"/>
<rect x="32.29" y="88" width="2.80" height="8.5" fill="#aca2bf" stroke="#8a8a8a" stroke-opacity="0.5" stroke-width="0.25"/>
<rect x="35.09" y="88" width="2.80" height="8.5" fill="#d79bb5" stroke="#8a8a8a" stroke-opacity="0.5" stroke-width="0.25"/>
<rect x="37.88" y="88" width="2.80" height="8.5" fill="#a69fae" stroke="#8a8a8a" stroke-opacity="0.5" stroke-width="0.25"/>
<rect x="40.68" y="88" width="2.80" height="8.5" fill="#c1aba0" stroke="#8a8a8a" stroke-opacity="0.5" stroke-width="0.25"/>
<rect x="43.48" y="88" width="2.80" height="8.5" fill="#92c5ac" stroke="#8a8a8a" stroke-opacity="0.5" stroke-width="0.25"/>
<rect x="46.28" y="88" width="2.80" height="8.5" fill="#92c5ac" stroke="#8a8a8a" stroke-opacity="0.5" stroke-width="0.25"/>
<rect x="49.08" y="88" width="2.80" height="8.5" fill="#84bba3" stroke="#8a8a8a" stroke-opacity="0.5" stroke-width="0.25"/>
<rect x="51.88" y="88" width="2.80" height="8.5" fill="#aca2bf" stroke="#8a8a8a" stroke-opacity="0.5" stroke-width="0.25"/>
<rect x="54.67" y="88" width="2.80" height="8.5" fill="#d79bb5" stroke="#8a8a8a" stroke-opacity="0.5" stroke-width="0.25"/>
<rect x="57.47" y="88" width="2.80" height="8.5" fill="#92c5ac" stroke="#8a8a8a" stroke-opacity="0.5" stroke-width="0.25"/>
<rect x="60.27" y="88" width="2.80" height="8.5" fill="#92c5ac" stroke="#8a8a8a" stroke-opacity="0.5" stroke-width="0.25"/>
<rect x="63.07" y="88" width="2.80" height="8.5" fill="#92c5ac" stroke="#8a8a8a" stroke-opacity="0.5" stroke-width="0.25"/>
<rect x="65.87" y="88" width="2.80" height="8.5" fill="#c1aba0" stroke="#8a8a8a" stroke-opacity="0.5" stroke-width="0.25"/>
<rect x="68.66" y="88" width="2.80" height="8.5" fill="#92c5ac" stroke="#8a8a8a" stroke-opacity="0.5" stroke-width="0.25"/>
<rect x="71.46" y="88" width="2.80" height="8.5" fill="#92c5ac" stroke="#8a8a8a" stroke-opacity="0.5" stroke-width="0.25"/>
<rect x="74.26" y="88" width="2.80" height="8.5" fill="#aca2bf" stroke="#8a8a8a" stroke-opacity="0.5" stroke-width="0.25"/>
<rect x="77.06" y="88" width="2.80" height="8.5" fill="#aca2bf" stroke="#8a8a8a" stroke-opacity="0.5" stroke-width="0.25"/>
<rect x="79.86" y="88" width="2.80" height="8.5" fill="#e0cd94" stroke="#8a8a8a" stroke-opacity="0.5" stroke-width="0.25"/>
<rect x="82.65" y="88" width="2.80" height="8.5" fill="#c1939e" stroke="#8a8a8a" stroke-opacity="0.5" stroke-width="0.25"/>
<rect x="85.45" y="88" width="2.80" height="8.5" fill="#9fcece" stroke="#8a8a8a" stroke-opacity="0.5" stroke-width="0.25"/>
<rect x="88.25" y="88" width="2.80" height="8.5" fill="#c1939e" stroke="#8a8a8a" stroke-opacity="0.5" stroke-width="0.25"/>
<rect x="91.05" y="88" width="2.80" height="8.5" fill="#c1aba0" stroke="#8a8a8a" stroke-opacity="0.5" stroke-width="0.25"/>
<rect x="93.85" y="88" width="2.80" height="8.5" fill="#c1aba0" stroke="#8a8a8a" stroke-opacity="0.5" stroke-width="0.25"/>
<rect x="96.64" y="88" width="2.80" height="8.5" fill="#c1aba0" stroke="#8a8a8a" stroke-opacity="0.5" stroke-width="0.25"/>
<rect x="99.44" y="88" width="2.80" height="8.5" fill="#e0cd94" stroke="#8a8a8a" stroke-opacity="0.5" stroke-width="0.25"/>
<rect x="102.24" y="88" width="2.80" height="8.5" fill="#c1aba0" stroke="#8a8a8a" stroke-opacity="0.5" stroke-width="0.25"/>
<rect x="105.04" y="88" width="2.80" height="8.5" fill="#a69fae" stroke="#8a8a8a" stroke-opacity="0.5" stroke-width="0.25"/>
<rect x="107.84" y="88" width="2.80" height="8.5" fill="#9fcece" stroke="#8a8a8a" stroke-opacity="0.5" stroke-width="0.25"/>
<rect x="110.63" y="88" width="2.80" height="8.5" fill="#e0cd94" stroke="#8a8a8a" stroke-opacity="0.5" stroke-width="0.25"/>
<rect x="113.43" y="88" width="2.80" height="8.5" fill="#e0cd94" stroke="#8a8a8a" stroke-opacity="0.5" stroke-width="0.25"/>
<rect x="116.23" y="88" width="2.80" height="8.5" fill="#e0cd94" stroke="#8a8a8a" stroke-opacity="0.5" stroke-width="0.25"/>
<rect x="119.03" y="88" width="2.80" height="8.5" fill="#c1939e" stroke="#8a8a8a" stroke-opacity="0.5" stroke-width="0.25"/>
<rect x="121.83" y="88" width="2.80" height="8.5" fill="#c1939e" stroke="#8a8a8a" stroke-opacity="0.5" stroke-width="0.25"/>
<rect x="124.62" y="88" width="2.80" height="8.5" fill="#aca2bf" stroke="#8a8a8a" stroke-opacity="0.5" stroke-width="0.25"/>
<rect x="127.42" y="88" width="2.80" height="8.5" fill="#c1939e" stroke="#8a8a8a" stroke-opacity="0.5" stroke-width="0.25"/>
<rect x="130.22" y="88" width="2.80" height="8.5" fill="#9fcece" stroke="#8a8a8a" stroke-opacity="0.5" stroke-width="0.25"/>
<rect x="133.02" y="88" width="2.80" height="8.5" fill="#e0cd94" stroke="#8a8a8a" stroke-opacity="0.5" stroke-width="0.25"/>
<rect x="135.82" y="88" width="2.80" height="8.5" fill="#e0cd94" stroke="#8a8a8a" stroke-opacity="0.5" stroke-width="0.25"/>
<rect x="138.62" y="88" width="2.80" height="8.5" fill="#c1939e" stroke="#8a8a8a" stroke-opacity="0.5" stroke-width="0.25"/>
<rect x="141.41" y="88" width="2.80" height="8.5" fill="#84bba3" stroke="#8a8a8a" stroke-opacity="0.5" stroke-width="0.25"/>
<rect x="144.21" y="88" width="2.80" height="8.5" fill="#84bba3" stroke="#8a8a8a" stroke-opacity="0.5" stroke-width="0.25"/>
<rect x="147.01" y="88" width="2.80" height="8.5" fill="#a69fae" stroke="#8a8a8a" stroke-opacity="0.5" stroke-width="0.25"/>
<rect x="149.81" y="88" width="2.80" height="8.5" fill="#a69fae" stroke="#8a8a8a" stroke-opacity="0.5" stroke-width="0.25"/>
<rect x="152.61" y="88" width="2.80" height="8.5" fill="#b4c0d0" stroke="#8a8a8a" stroke-opacity="0.5" stroke-width="0.25"/>
<rect x="155.40" y="88" width="2.80" height="8.5" fill="#9fcece" stroke="#8a8a8a" stroke-opacity="0.5" stroke-width="0.25"/>
<rect x="158.20" y="88" width="2.80" height="8.5" fill="#c1939e" stroke="#8a8a8a" stroke-opacity="0.5" stroke-width="0.25"/>
<text x="164.40" y="3.70" font-size="3.20" text-anchor="start" textLength="5.96" lengthAdjust="spacingAndGlyphs" font-family="Liberation Sans, sans-serif" fill="#444" color="#444">m6A</text>
<rect x="164" y="6.30" width="5" height="4.6" fill="#84c8a9"/>
<text x="171.00" y="9.80" font-size="3.20" text-anchor="start" textLength="11.12" lengthAdjust="spacingAndGlyphs" font-family="Liberation Sans, sans-serif" fill="#555" color="#555">ALKBH5</text>
<rect x="164" y="11.70" width="5" height="4.6" fill="#b4accb"/>
<text x="171.00" y="15.20" font-size="3.20" text-anchor="start" textLength="7.89" lengthAdjust="spacingAndGlyphs" font-family="Liberation Sans, sans-serif" fill="#555" color="#555">FMR1</text>
<rect x="164" y="17.10" width="5" height="4.6" fill="#eca1c2"/>
<text x="171.00" y="20.60" font-size="3.20" text-anchor="start" textLength="5.75" lengthAdjust="spacingAndGlyphs" font-family="Liberation Sans, sans-serif" fill="#555" color="#555">FTO</text>
<rect x="164" y="22.50" width="5" height="4.6" fill="#f3e9c2"/>
<text x="171.00" y="26.00" font-size="3.20" text-anchor="start" textLength="11.93" lengthAdjust="spacingAndGlyphs" font-family="Liberation Sans, sans-serif" fill="#555" color="#555">IGF2BP1</text>
<rect x="164" y="27.90" width="5" height="4.6" fill="#8d9eb9"/>
<text x="171.00" y="31.40" font-size="3.20" text-anchor="start" textLength="11.93" lengthAdjust="spacingAndGlyphs" font-family="Liberation Sans, sans-serif" fill="#555" color="#555">IGF2BP2</text>
<rect x="164" y="33.30" width="5" height="4.6" fill="#de8d9e"/>
<text x="171.00" y="36.80" font-size="3.20" text-anchor="start" textLength="11.93" lengthAdjust="spacingAndGlyphs" font-family="Liberation Sans, sans-serif" fill="#555" color="#555">IGF2BP3</text>
<rect x="164" y="38.70" width="5" height="4.6" fill="#a49ba9"/>
<text x="171.00" y="42.20" font-size="3.20" text-anchor="start" textLength="12.73" lengthAdjust="spacingAndGlyphs" font-family="Liberation Sans, sans-serif" fill="#555" color="#555">METTL14</text>
<rect x="164" y="44.10" width="5" height="4.6" fill="#d1b5a9"/>
<text x="171.00" y="47.60" font-size="3.20" text-anchor="start" textLength="12.73" lengthAdjust="spacingAndGlyphs" font-family="Liberation Sans, sans-serif" fill="#555" color="#555">METTL16</text>
<rect x="164" y="49.50" width="5" height="4.6" fill="#f3e19b"/>
<text x="171.00" y="53.00" font-size="3.20" text-anchor="start" textLength="11.12" lengthAdjust="spacingAndGlyphs" font-family="Liberation Sans, sans-serif" fill="#555" color="#555">METTL3</text>
<rect x="164" y="54.90" width="5" height="4.6" fill="#82c4aa"/>
<text x="171.00" y="58.40" font-size="3.20" text-anchor="start" textLength="9.67" lengthAdjust="spacingAndGlyphs" font-family="Liberation Sans, sans-serif" fill="#555" color="#555">RBM15</text>
<rect x="164" y="60.30" width="5" height="4.6" fill="#90d7b5"/>
<text x="171.00" y="63.80" font-size="3.20" text-anchor="start" textLength="11.60" lengthAdjust="spacingAndGlyphs" font-family="Liberation Sans, sans-serif" fill="#555" color="#555">RBM15B</text>
<rect x="164" y="65.70" width="5" height="4.6" fill="#a1deda"/>
<text x="171.00" y="69.20" font-size="3.20" text-anchor="start" textLength="8.38" lengthAdjust="spacingAndGlyphs" font-family="Liberation Sans, sans-serif" fill="#555" color="#555">RBMX</text>
<rect x="164" y="71.10" width="5" height="4.6" fill="#c28c9c"/>
<text x="171.00" y="74.60" font-size="3.20" text-anchor="start" textLength="8.16" lengthAdjust="spacingAndGlyphs" font-family="Liberation Sans, sans-serif" fill="#555" color="#555">WTAP</text>
<rect x="164" y="76.50" width="5" height="4.6" fill="#b5cbdd"/>
<text x="171.00" y="80.00" font-size="3.20" text-anchor="start" textLength="11.60" lengthAdjust="spacingAndGlyphs" font-family="Liberation Sans, sans-serif" fill="#555" color="#555">YTHDC1</text>
<rect x="164" y="81.90" width="5" height="4.6" fill="#aca3b5"/>
<text x="171.00" y="85.40" font-size="3.20" text-anchor="start" textLength="11.60" lengthAdjust="spacingAndGlyphs" font-family="Liberation Sans, sans-serif" fill="#555" color="#555">YTHDC2</text>
<rect x="164" y="87.30" width="5" height="4.6" fill="#cde3c0"/>
<text x="171.00" y="90.80" font-size="3.20" text-anchor="start" textLength="11.28" lengthAdjust="spacingAndGlyphs" font-family="Liberation Sans, sans-serif" fill="#555" color="#555">YTHDF3</text>
<rect x="164" y="92.70" width="5" height="4.6" fill="#7abf9e"/>
<text x="171.00" y="96.20" font-size="3.20" text-anchor="start" textLength="10.80" lengthAdjust="spacingAndGlyphs" font-family="Liberation Sans, sans-serif" fill="#555" color="#555">ZC3H13</text>
<text x="194.6" y="6.8" font-size="8.2" font-weight="bold" font-family="Liberation Sans, sans-serif" fill="#111" color="#111">B</text>
<text x="240.2" y="3.4" font-size="2.6" font-weight="bold" font-family="Liberation Sans, sans-serif" fill="#222" color="#222">pvalue</text>
<text x="292.00" y="3.60" font-size="3.10" text-anchor="end" textLength="13.07" lengthAdjust="spacingAndGlyphs" font-family="Liberation Sans, sans-serif" fill="#222" color="#222">Hazard ratio</text>
<text x="208.30" y="8.65" font-size="3.20" text-anchor="start" textLength="18.26" lengthAdjust="spacingAndGlyphs" font-family="Liberation Sans, sans-serif" fill="#222" color="#222">TRAF3IP2-AS1</text>
<text x="241.10" y="8.65" font-size="3.20" text-anchor="start" textLength="6.63" lengthAdjust="spacingAndGlyphs" font-family="Liberation Sans, sans-serif" fill="#222" color="#222">0.022</text>
<text x="295.70" y="8.65" font-size="3.20" text-anchor="end" textLength="24.24" lengthAdjust="spacingAndGlyphs" font-family="Liberation Sans, sans-serif" fill="#222" color="#222">0.196(0.053-0.801)</text>
<line x1="309.40" y1="7.50" x2="371.10" y2="7.50" stroke="#5656a0" stroke-width="0.8"/>
<line x1="309.40" y1="6.30" x2="309.40" y2="8.70" stroke="#5656a0" stroke-width="0.6"/>
<line x1="371.10" y1="6.30" x2="371.10" y2="8.70" stroke="#5656a0" stroke-width="0.6"/>
<rect x="320.10" y="6.80" width="2.2" height="1.4" fill="#7ddc7d" fill-opacity="0.8"/>
<text x="208.30" y="13.65" font-size="3.20" text-anchor="start" textLength="14.73" lengthAdjust="spacingAndGlyphs" font-family="Liberation Sans, sans-serif" fill="#222" color="#222">AC008771.1</text>
<text x="241.10" y="13.65" font-size="3.20" text-anchor="start" textLength="6.63" lengthAdjust="spacingAndGlyphs" font-family="Liberation Sans, sans-serif" fill="#222" color="#222">0.046</text>
<text x="295.70" y="13.65" font-size="3.20" text-anchor="end" textLength="24.24" lengthAdjust="spacingAndGlyphs" font-family="Liberation Sans, sans-serif" fill="#222" color="#222">0.531(0.286-0.954)</text>
<line x1="328.60" y1="12.50" x2="383.70" y2="12.50" stroke="#5656a0" stroke-width="0.8"/>
<line x1="328.60" y1="11.30" x2="328.60" y2="13.70" stroke="#5656a0" stroke-width="0.6"/>
<line x1="383.70" y1="11.30" x2="383.70" y2="13.70" stroke="#5656a0" stroke-width="0.6"/>
<rect x="347.70" y="11.80" width="2.2" height="1.4" fill="#7ddc7d" fill-opacity="0.8"/>
<text x="208.30" y="18.65" font-size="3.20" text-anchor="start" textLength="14.73" lengthAdjust="spacingAndGlyphs" font-family="Liberation Sans, sans-serif" fill="#222" color="#222">AC025754.2</text>
<text x="241.10" y="18.65" font-size="3.20" text-anchor="start" textLength="6.63" lengthAdjust="spacingAndGlyphs" font-family="Liberation Sans, sans-serif" fill="#222" color="#222">0.046</text>
<text x="295.70" y="18.65" font-size="3.20" text-anchor="end" textLength="24.24" lengthAdjust="spacingAndGlyphs" font-family="Liberation Sans, sans-serif" fill="#222" color="#222">0.468(0.235-0.967)</text>
<line x1="324.40" y1="17.50" x2="384.80" y2="17.50" stroke="#5656a0" stroke-width="0.8"/>
<line x1="324.40" y1="16.30" x2="324.40" y2="18.70" stroke="#5656a0" stroke-width="0.6"/>
<line x1="384.80" y1="16.30" x2="384.80" y2="18.70" stroke="#5656a0" stroke-width="0.6"/>
<rect x="342.50" y="16.80" width="2.2" height="1.4" fill="#7ddc7d" fill-opacity="0.8"/>
<text x="208.30" y="23.65" font-size="3.20" text-anchor="start" textLength="14.97" lengthAdjust="spacingAndGlyphs" font-family="Liberation Sans, sans-serif" fill="#222" color="#222">PAXIP1-AS1</text>
<text x="241.10" y="23.65" font-size="3.20" text-anchor="start" textLength="6.63" lengthAdjust="spacingAndGlyphs" font-family="Liberation Sans, sans-serif" fill="#222" color="#222">0.012</text>
<text x="295.70" y="23.65" font-size="3.20" text-anchor="end" textLength="24.03" lengthAdjust="spacingAndGlyphs" font-family="Liberation Sans, sans-serif" fill="#222" color="#222">0.291(0.118-0.770)</text>
<line x1="314.70" y1="22.50" x2="368.50" y2="22.50" stroke="#5656a0" stroke-width="0.8"/>
<line x1="314.70" y1="21.30" x2="314.70" y2="23.70" stroke="#5656a0" stroke-width="0.6"/>
<line x1="368.50" y1="21.30" x2="368.50" y2="23.70" stroke="#5656a0" stroke-width="0.6"/>
<rect x="327.90" y="21.80" width="2.2" height="1.4" fill="#7ddc7d" fill-opacity="0.8"/>
<text x="208.30" y="29.65" font-size="3.20" text-anchor="start" textLength="15.46" lengthAdjust="spacingAndGlyphs" font-family="Liberation Sans, sans-serif" fill="#222" color="#222">ZNF436-AS1</text>
<text x="241.10" y="29.65" font-size="3.20" text-anchor="start" textLength="8.18" lengthAdjust="spacingAndGlyphs" font-family="Liberation Sans, sans-serif" fill="#222" color="#222">&lt;0.001</text>
<text x="295.70" y="29.65" font-size="3.20" text-anchor="end" textLength="24.24" lengthAdjust="spacingAndGlyphs" font-family="Liberation Sans, sans-serif" fill="#222" color="#222">0.182(0.061-0.562)</text>
<line x1="310.00" y1="28.50" x2="351.40" y2="28.50" stroke="#5656a0" stroke-width="0.8"/>
<line x1="310.00" y1="27.30" x2="310.00" y2="29.70" stroke="#5656a0" stroke-width="0.6"/>
<line x1="351.40" y1="27.30" x2="351.40" y2="29.70" stroke="#5656a0" stroke-width="0.6"/>
<rect x="318.90" y="27.80" width="2.2" height="1.4" fill="#7ddc7d" fill-opacity="0.8"/>
<text x="208.30" y="34.65" font-size="3.20" text-anchor="start" textLength="13.11" lengthAdjust="spacingAndGlyphs" font-family="Liberation Sans, sans-serif" fill="#222" color="#222">NARF-AS1</text>
<text x="241.10" y="34.65" font-size="3.20" text-anchor="start" textLength="6.63" lengthAdjust="spacingAndGlyphs" font-family="Liberation Sans, sans-serif" fill="#222" color="#222">0.044</text>
<text x="295.70" y="34.65" font-size="3.20" text-anchor="end" textLength="24.24" lengthAdjust="spacingAndGlyphs" font-family="Liberation Sans, sans-serif" fill="#222" color="#222">0.531(0.286-0.976)</text>
<line x1="328.60" y1="33.50" x2="385.50" y2="33.50" stroke="#5656a0" stroke-width="0.8"/>
<line x1="328.60" y1="32.30" x2="328.60" y2="34.70" stroke="#5656a0" stroke-width="0.6"/>
<line x1="385.50" y1="32.30" x2="385.50" y2="34.70" stroke="#5656a0" stroke-width="0.6"/>
<rect x="347.70" y="32.80" width="2.2" height="1.4" fill="#7ddc7d" fill-opacity="0.8"/>
<text x="208.30" y="39.65" font-size="3.20" text-anchor="start" textLength="15.46" lengthAdjust="spacingAndGlyphs" font-family="Liberation Sans, sans-serif" fill="#222" color="#222">ZNF503-AS1</text>
<text x="241.10" y="39.65" font-size="3.20" text-anchor="start" textLength="6.63" lengthAdjust="spacingAndGlyphs" font-family="Liberation Sans, sans-serif" fill="#222" color="#222">0.026</text>
<text x="295.70" y="39.65" font-size="3.20" text-anchor="end" textLength="24.24" lengthAdjust="spacingAndGlyphs" font-family="Liberation Sans, sans-serif" fill="#222" color="#222">0.018(0.012-0.699)</text>
<line x1="306.00" y1="38.50" x2="362.70" y2="38.50" stroke="#5656a0" stroke-width="0.8"/>
<line x1="306.00" y1="37.30" x2="306.00" y2="39.70" stroke="#5656a0" stroke-width="0.6"/>
<line x1="362.70" y1="37.30" x2="362.70" y2="39.70" stroke="#5656a0" stroke-width="0.6"/>
<rect x="305.40" y="37.80" width="2.2" height="1.4" fill="#7ddc7d" fill-opacity="0.8"/>
<text x="208.30" y="44.65" font-size="3.20" text-anchor="start" textLength="14.73" lengthAdjust="spacingAndGlyphs" font-family="Liberation Sans, sans-serif" fill="#222" color="#222">AC022509.1</text>
<text x="241.10" y="44.65" font-size="3.20" text-anchor="start" textLength="6.63" lengthAdjust="spacingAndGlyphs" font-family="Liberation Sans, sans-serif" fill="#222" color="#222">0.048</text>
<text x="295.70" y="44.65" font-size="3.20" text-anchor="end" textLength="24.24" lengthAdjust="spacingAndGlyphs" font-family="Liberation Sans, sans-serif" fill="#222" color="#222">0.213(0.053-0.985)</text>
<line x1="309.40" y1="43.50" x2="386.30" y2="43.50" stroke="#5656a0" stroke-width="0.8"/>
<line x1="309.40" y1="42.30" x2="309.40" y2="44.70" stroke="#5656a0" stroke-width="0.6"/>
<line x1="386.30" y1="42.30" x2="386.30" y2="44.70" stroke="#5656a0" stroke-width="0.6"/>
<rect x="321.50" y="42.80" width="2.2" height="1.4" fill="#7ddc7d" fill-opacity="0.8"/>
<text x="208.30" y="49.65" font-size="3.20" text-anchor="start" textLength="14.73" lengthAdjust="spacingAndGlyphs" font-family="Liberation Sans, sans-serif" fill="#222" color="#222">AC021242.3</text>
<text x="241.10" y="49.65" font-size="3.20" text-anchor="start" textLength="6.63" lengthAdjust="spacingAndGlyphs" font-family="Liberation Sans, sans-serif" fill="#222" color="#222">0.046</text>
<text x="295.70" y="49.65" font-size="3.20" text-anchor="end" textLength="24.24" lengthAdjust="spacingAndGlyphs" font-family="Liberation Sans, sans-serif" fill="#222" color="#222">0.018(0.012-0.903)</text>
<line x1="306.00" y1="48.50" x2="379.50" y2="48.50" stroke="#5656a0" stroke-width="0.8"/>
<line x1="306.00" y1="47.30" x2="306.00" y2="49.70" stroke="#5656a0" stroke-width="0.6"/>
<line x1="379.50" y1="47.30" x2="379.50" y2="49.70" stroke="#5656a0" stroke-width="0.6"/>
<rect x="305.40" y="47.80" width="2.2" height="1.4" fill="#7ddc7d" fill-opacity="0.8"/>
<text x="208.30" y="54.65" font-size="3.20" text-anchor="start" textLength="13.41" lengthAdjust="spacingAndGlyphs" font-family="Liberation Sans, sans-serif" fill="#222" color="#222">LINC01087</text>
<text x="241.10" y="54.65" font-size="3.20" text-anchor="start" textLength="6.63" lengthAdjust="spacingAndGlyphs" font-family="Liberation Sans, sans-serif" fill="#222" color="#222">0.038</text>
<text x="295.70" y="54.65" font-size="3.20" text-anchor="end" textLength="24.24" lengthAdjust="spacingAndGlyphs" font-family="Liberation Sans, sans-serif" fill="#222" color="#222">0.267(0.076-0.976)</text>
<line x1="311.30" y1="53.50" x2="385.50" y2="53.50" stroke="#5656a0" stroke-width="0.8"/>
<line x1="311.30" y1="52.30" x2="311.30" y2="54.70" stroke="#5656a0" stroke-width="0.6"/>
<line x1="385.50" y1="52.30" x2="385.50" y2="54.70" stroke="#5656a0" stroke-width="0.6"/>
<rect x="325.90" y="52.80" width="2.2" height="1.4" fill="#7ddc7d" fill-opacity="0.8"/>
<text x="208.30" y="59.65" font-size="3.20" text-anchor="start" textLength="14.73" lengthAdjust="spacingAndGlyphs" font-family="Liberation Sans, sans-serif" fill="#222" color="#222">AC097641.4</text>
<text x="241.10" y="59.65" font-size="3.20" text-anchor="start" textLength="6.63" lengthAdjust="spacingAndGlyphs" font-family="Liberation Sans, sans-serif" fill="#222" color="#222">0.012</text>
<text x="295.70" y="59.65" font-size="3.20" text-anchor="end" textLength="24.24" lengthAdjust="spacingAndGlyphs" font-family="Liberation Sans, sans-serif" fill="#222" color="#222">0.085(0.012-0.585)</text>
<line x1="306.00" y1="58.50" x2="353.30" y2="58.50" stroke="#5656a0" stroke-width="0.8"/>
<line x1="306.00" y1="57.30" x2="306.00" y2="59.70" stroke="#5656a0" stroke-width="0.6"/>
<line x1="353.30" y1="57.30" x2="353.30" y2="59.70" stroke="#5656a0" stroke-width="0.6"/>
<rect x="310.90" y="57.80" width="2.2" height="1.4" fill="#7ddc7d" fill-opacity="0.8"/>
<text x="208.30" y="64.65" font-size="3.20" text-anchor="start" textLength="14.73" lengthAdjust="spacingAndGlyphs" font-family="Liberation Sans, sans-serif" fill="#222" color="#222">AC005050.1</text>
<text x="241.10" y="64.65" font-size="3.20" text-anchor="start" textLength="6.63" lengthAdjust="spacingAndGlyphs" font-family="Liberation Sans, sans-serif" fill="#222" color="#222">0.020</text>
<text x="295.70" y="64.65" font-size="3.20" text-anchor="end" textLength="24.24" lengthAdjust="spacingAndGlyphs" font-family="Liberation Sans, sans-serif" fill="#222" color="#222">0.085(0.012-0.722)</text>
<line x1="306.00" y1="63.50" x2="364.60" y2="63.50" stroke="#5656a0" stroke-width="0.8"/>
<line x1="306.00" y1="62.30" x2="306.00" y2="64.70" stroke="#5656a0" stroke-width="0.6"/>
<line x1="364.60" y1="62.30" x2="364.60" y2="64.70" stroke="#5656a0" stroke-width="0.6"/>
<rect x="310.90" y="62.80" width="2.2" height="1.4" fill="#7ddc7d" fill-opacity="0.8"/>
<text x="208.30" y="69.65" font-size="3.20" text-anchor="start" textLength="11.78" lengthAdjust="spacingAndGlyphs" font-family="Liberation Sans, sans-serif" fill="#222" color="#222">MIR31HG</text>
<text x="241.10" y="69.65" font-size="3.20" text-anchor="start" textLength="6.63" lengthAdjust="spacingAndGlyphs" font-family="Liberation Sans, sans-serif" fill="#222" color="#222">0.001</text>
<text x="295.70" y="69.65" font-size="3.20" text-anchor="end" textLength="24.03" lengthAdjust="spacingAndGlyphs" font-family="Liberation Sans, sans-serif" fill="#222" color="#222">0.308(0.118-0.833)</text>
<line x1="314.70" y1="68.50" x2="373.70" y2="68.50" stroke="#5656a0" stroke-width="0.8"/>
<line x1="314.70" y1="67.30" x2="314.70" y2="69.70" stroke="#5656a0" stroke-width="0.6"/>
<line x1="373.70" y1="67.30" x2="373.70" y2="69.70" stroke="#5656a0" stroke-width="0.6"/>
<rect x="329.30" y="67.80" width="2.2" height="1.4" fill="#7ddc7d" fill-opacity="0.8"/>
<text x="208.30" y="74.65" font-size="3.20" text-anchor="start" textLength="14.73" lengthAdjust="spacingAndGlyphs" font-family="Liberation Sans, sans-serif" fill="#222" color="#222">AC022513.1</text>
<text x="241.10" y="74.65" font-size="3.20" text-anchor="start" textLength="6.63" lengthAdjust="spacingAndGlyphs" font-family="Liberation Sans, sans-serif" fill="#222" color="#222">0.030</text>
<text x="295.70" y="74.65" font-size="3.20" text-anchor="end" textLength="24.24" lengthAdjust="spacingAndGlyphs" font-family="Liberation Sans, sans-serif" fill="#222" color="#222">0.436(0.196-0.976)</text>
<line x1="321.20" y1="73.50" x2="385.50" y2="73.50" stroke="#5656a0" stroke-width="0.8"/>
<line x1="321.20" y1="72.30" x2="321.20" y2="74.70" stroke="#5656a0" stroke-width="0.6"/>
<line x1="385.50" y1="72.30" x2="385.50" y2="74.70" stroke="#5656a0" stroke-width="0.6"/>
<rect x="339.90" y="72.80" width="2.2" height="1.4" fill="#7ddc7d" fill-opacity="0.8"/>
<text x="208.30" y="79.65" font-size="3.20" text-anchor="start" textLength="11.05" lengthAdjust="spacingAndGlyphs" font-family="Liberation Sans, sans-serif" fill="#222" color="#222">FLG-AS1</text>
<text x="241.10" y="79.65" font-size="3.20" text-anchor="start" textLength="6.63" lengthAdjust="spacingAndGlyphs" font-family="Liberation Sans, sans-serif" fill="#222" color="#222">0.039</text>
<text x="295.70" y="79.65" font-size="3.20" text-anchor="end" textLength="24.03" lengthAdjust="spacingAndGlyphs" font-family="Liberation Sans, sans-serif" fill="#222" color="#222">0.118(0.022-0.903)</text>
<line x1="306.80" y1="78.50" x2="379.50" y2="78.50" stroke="#5656a0" stroke-width="0.8"/>
<line x1="306.80" y1="77.30" x2="306.80" y2="79.70" stroke="#5656a0" stroke-width="0.6"/>
<line x1="379.50" y1="77.30" x2="379.50" y2="79.70" stroke="#5656a0" stroke-width="0.6"/>
<rect x="313.60" y="77.80" width="2.2" height="1.4" fill="#7ddc7d" fill-opacity="0.8"/>
<text x="208.30" y="85.65" font-size="3.20" text-anchor="start" textLength="14.73" lengthAdjust="spacingAndGlyphs" font-family="Liberation Sans, sans-serif" fill="#222" color="#222">AC090720.2</text>
<text x="241.10" y="85.65" font-size="3.20" text-anchor="start" textLength="6.63" lengthAdjust="spacingAndGlyphs" font-family="Liberation Sans, sans-serif" fill="#222" color="#222">0.021</text>
<text x="295.70" y="85.65" font-size="3.20" text-anchor="end" textLength="24.24" lengthAdjust="spacingAndGlyphs" font-family="Liberation Sans, sans-serif" fill="#222" color="#222">0.229(0.076-0.801)</text>
<line x1="311.30" y1="84.50" x2="371.10" y2="84.50" stroke="#5656a0" stroke-width="0.8"/>
<line x1="311.30" y1="83.30" x2="311.30" y2="85.70" stroke="#5656a0" stroke-width="0.6"/>
<line x1="371.10" y1="83.30" x2="371.10" y2="85.70" stroke="#5656a0" stroke-width="0.6"/>
<rect x="322.80" y="83.80" width="2.2" height="1.4" fill="#7ddc7d" fill-opacity="0.8"/>
<text x="208.30" y="90.65" font-size="3.20" text-anchor="start" textLength="14.73" lengthAdjust="spacingAndGlyphs" font-family="Liberation Sans, sans-serif" fill="#222" color="#222">AC098762.2</text>
<text x="241.10" y="90.65" font-size="3.20" text-anchor="start" textLength="6.63" lengthAdjust="spacingAndGlyphs" font-family="Liberation Sans, sans-serif" fill="#222" color="#222">0.018</text>
<text x="295.70" y="90.65" font-size="3.20" text-anchor="end" textLength="24.24" lengthAdjust="spacingAndGlyphs" font-family="Liberation Sans, sans-serif" fill="#222" color="#222">0.349(0.149-0.801)</text>
<line x1="317.30" y1="89.50" x2="371.10" y2="89.50" stroke="#5656a0" stroke-width="0.8"/>
<line x1="317.30" y1="88.30" x2="317.30" y2="90.70" stroke="#5656a0" stroke-width="0.6"/>
<line x1="371.10" y1="88.30" x2="371.10" y2="90.70" stroke="#5656a0" stroke-width="0.6"/>
<rect x="332.70" y="88.80" width="2.2" height="1.4" fill="#7ddc7d" fill-opacity="0.8"/>
<line x1="304.4" y1="93.2" x2="371" y2="93.2" stroke="#777" stroke-width="0.5"/>
<line x1="305.0" y1="93.2" x2="305.0" y2="94.3" stroke="#777" stroke-width="0.4"/>
<text x="305.00" y="98.20" font-size="3.10" text-anchor="middle" textLength="3.89" lengthAdjust="spacingAndGlyphs" font-family="Liberation Sans, sans-serif" fill="#333" color="#333">0.0</text>
<line x1="321.5" y1="93.2" x2="321.5" y2="94.3" stroke="#777" stroke-width="0.4"/>
<text x="321.50" y="98.20" font-size="3.10" text-anchor="middle" textLength="3.89" lengthAdjust="spacingAndGlyphs" font-family="Liberation Sans, sans-serif" fill="#333" color="#333">0.2</text>
<line x1="338.0" y1="93.2" x2="338.0" y2="94.3" stroke="#777" stroke-width="0.4"/>
<text x="338.00" y="98.20" font-size="3.10" text-anchor="middle" textLength="3.89" lengthAdjust="spacingAndGlyphs" font-family="Liberation Sans, sans-serif" fill="#333" color="#333">0.4</text>
<line x1="354.5" y1="93.2" x2="354.5" y2="94.3" stroke="#777" stroke-width="0.4"/>
<text x="354.50" y="98.20" font-size="3.10" text-anchor="middle" textLength="3.89" lengthAdjust="spacingAndGlyphs" font-family="Liberation Sans, sans-serif" fill="#333" color="#333">0.6</text>
<line x1="371.0" y1="93.2" x2="371.0" y2="94.3" stroke="#777" stroke-width="0.4"/>
<text x="371.00" y="98.20" font-size="3.10" text-anchor="middle" textLength="3.89" lengthAdjust="spacingAndGlyphs" font-family="Liberation Sans, sans-serif" fill="#333" color="#333">0.8</text>
<text x="345.50" y="104.10" font-size="3.10" text-anchor="middle" textLength="15.25" lengthAdjust="spacingAndGlyphs" font-family="Liberation Sans, sans-serif" fill="#222" color="#222">Hazard ratio</text>
<text x="0.8" y="106.6" font-size="8.2" font-weight="bold" font-family="Liberation Sans, sans-serif" fill="#111" color="#111">C</text>
<rect x="16" y="115.2" width="109.5" height="98.2" fill="none" stroke="#888" stroke-width="0.5"/>
<line x1="18.2" y1="115.2" x2="18.2" y2="114" stroke="#888" stroke-width="0.4"/>
<text x="18.20" y="111.10" font-size="3.20" text-anchor="middle" textLength="3.34" lengthAdjust="spacingAndGlyphs" font-family="Liberation Sans, sans-serif" fill="#333" color="#333">17</text>
<line x1="36.7" y1="115.2" x2="36.7" y2="114" stroke="#888" stroke-width="0.4"/>
<text x="36.70" y="111.10" font-size="3.20" text-anchor="middle" textLength="3.34" lengthAdjust="spacingAndGlyphs" font-family="Liberation Sans, sans-serif" fill="#333" color="#333">17</text>
<line x1="55.2" y1="115.2" x2="55.2" y2="114" stroke="#888" stroke-width="0.4"/>
<text x="55.20" y="111.10" font-size="3.20" text-anchor="middle" textLength="3.34" lengthAdjust="spacingAndGlyphs" font-family="Liberation Sans, sans-serif" fill="#333" color="#333">16</text>
<line x1="73.7" y1="115.2" x2="73.7" y2="114" stroke="#888" stroke-width="0.4"/>
<text x="73.70" y="111.10" font-size="3.20" text-anchor="middle" textLength="3.34" lengthAdjust="spacingAndGlyphs" font-family="Liberation Sans, sans-serif" fill="#333" color="#333">13</text>
<line x1="92.2" y1="115.2" x2="92.2" y2="114" stroke="#888" stroke-width="0.4"/>
<text x="92.20" y="111.10" font-size="3.20" text-anchor="middle" textLength="1.67" lengthAdjust="spacingAndGlyphs" font-family="Liberation Sans, sans-serif" fill="#333" color="#333">8</text>
<line x1="110.7" y1="115.2" x2="110.7" y2="114" stroke="#888" stroke-width="0.4"/>
<text x="110.70" y="111.10" font-size="3.20" text-anchor="middle" textLength="1.67" lengthAdjust="spacingAndGlyphs" font-family="Liberation Sans, sans-serif" fill="#333" color="#333">6</text>
<line x1="18.2" y1="213.4" x2="18.2" y2="214.6" stroke="#888" stroke-width="0.4"/>
<text x="18.20" y="220.90" font-size="3.20" text-anchor="middle" textLength="2.76" lengthAdjust="spacingAndGlyphs" font-family="Liberation Sans, sans-serif" fill="#333" color="#333">-7</text>
<line x1="36.7" y1="213.4" x2="36.7" y2="214.6" stroke="#888" stroke-width="0.4"/>
<text x="36.70" y="220.90" font-size="3.20" text-anchor="middle" textLength="2.76" lengthAdjust="spacingAndGlyphs" font-family="Liberation Sans, sans-serif" fill="#333" color="#333">-6</text>
<line x1="55.2" y1="213.4" x2="55.2" y2="214.6" stroke="#888" stroke-width="0.4"/>
<text x="55.20" y="220.90" font-size="3.20" text-anchor="middle" textLength="2.76" lengthAdjust="spacingAndGlyphs" font-family="Liberation Sans, sans-serif" fill="#333" color="#333">-5</text>
<line x1="73.7" y1="213.4" x2="73.7" y2="214.6" stroke="#888" stroke-width="0.4"/>
<text x="73.70" y="220.90" font-size="3.20" text-anchor="middle" textLength="2.76" lengthAdjust="spacingAndGlyphs" font-family="Liberation Sans, sans-serif" fill="#333" color="#333">-4</text>
<line x1="92.2" y1="213.4" x2="92.2" y2="214.6" stroke="#888" stroke-width="0.4"/>
<text x="92.20" y="220.90" font-size="3.20" text-anchor="middle" textLength="2.76" lengthAdjust="spacingAndGlyphs" font-family="Liberation Sans, sans-serif" fill="#333" color="#333">-3</text>
<line x1="110.7" y1="213.4" x2="110.7" y2="214.6" stroke="#888" stroke-width="0.4"/>
<text x="110.70" y="220.90" font-size="3.20" text-anchor="middle" textLength="2.76" lengthAdjust="spacingAndGlyphs" font-family="Liberation Sans, sans-serif" fill="#333" color="#333">-2</text>
<text x="70.50" y="228.30" font-size="3.30" text-anchor="middle" textLength="18.07" lengthAdjust="spacingAndGlyphs" font-family="Liberation Sans, sans-serif" fill="#333" color="#333">Log Lambda</text>
<line x1="16" y1="124.4" x2="14.8" y2="124.4" stroke="#888" stroke-width="0.4"/>
<text x="12" y="125.4" font-size="2.9" text-anchor="middle" transform="rotate(-90 12 124.4)" font-family="Liberation Sans, sans-serif" fill="#333" color="#333">0.6</text>
<line x1="16" y1="140.3" x2="14.8" y2="140.3" stroke="#888" stroke-width="0.4"/>
<text x="12" y="141.3" font-size="2.9" text-anchor="middle" transform="rotate(-90 12 140.3)" font-family="Liberation Sans, sans-serif" fill="#333" color="#333">0.4</text>
<line x1="16" y1="156.2" x2="14.8" y2="156.2" stroke="#888" stroke-width="0.4"/>
<text x="12" y="157.2" font-size="2.9" text-anchor="middle" transform="rotate(-90 12 156.2)" font-family="Liberation Sans, sans-serif" fill="#333" color="#333">0.2</text>
<line x1="16" y1="172.1" x2="14.8" y2="172.1" stroke="#888" stroke-width="0.4"/>
<text x="12" y="173.1" font-size="2.9" text-anchor="middle" transform="rotate(-90 12 172.1)" font-family="Liberation Sans, sans-serif" fill="#333" color="#333">0.0</text>
<line x1="16" y1="188.0" x2="14.8" y2="188.0" stroke="#888" stroke-width="0.4"/>
<text x="12" y="189.0" font-size="2.9" text-anchor="middle" transform="rotate(-90 12 188.0)" font-family="Liberation Sans, sans-serif" fill="#333" color="#333">-0.2</text>
<line x1="16" y1="203.9" x2="14.8" y2="203.9" stroke="#888" stroke-width="0.4"/>
<text x="12" y="204.9" font-size="2.9" text-anchor="middle" transform="rotate(-90 12 203.9)" font-family="Liberation Sans, sans-serif" fill="#333" color="#333">-0.4</text>
<g transform="rotate(-90 4 163.8)"><text x="4.00" y="164.80" font-size="3.00" text-anchor="middle" textLength="15.62" lengthAdjust="spacingAndGlyphs" font-family="Liberation Sans, sans-serif" fill="#333" color="#333">Coefficients</text></g>
<path d="M17.00,118.50 L18.08,118.66 L19.17,118.81 L20.25,118.96 L21.33,119.10 L22.42,119.24 L23.50,119.39 L24.58,119.54 L25.67,119.70 L26.75,119.87 L27.83,120.06 L28.92,120.27 L30.00,120.50 L31.25,120.80 L32.50,121.14 L33.75,121.52 L35.00,121.94 L36.25,122.40 L37.50,122.90 L38.75,123.43 L40.00,124.00 L41.25,124.60 L42.50,125.24 L43.75,125.90 L45.00,126.60 L46.00,127.21 L47.00,127.91 L48.00,128.69 L49.00,129.53 L50.00,130.44 L51.00,131.41 L52.00,132.42 L53.00,133.48 L54.00,134.58 L55.00,135.70 L56.00,136.84 L57.00,138.00 L57.67,138.80 L58.33,139.65 L59.00,140.54 L59.67,141.47 L60.33,142.44 L61.00,143.45 L61.67,144.48 L62.33,145.55 L63.00,146.63 L63.67,147.74 L64.33,148.86 L65.00,150.00 L65.42,150.72 L65.83,151.45 L66.25,152.20 L66.67,152.97 L67.08,153.75 L67.50,154.56 L67.92,155.39 L68.33,156.25 L68.75,157.14 L69.17,158.06 L69.58,159.01 L70.00,160.00 L70.33,160.92 L70.67,162.02 L71.00,163.27 L71.33,164.59 L71.67,165.96 L72.00,167.31 L72.33,168.59 L72.67,169.75 L73.00,170.75 L73.33,171.52 L73.67,172.02 L74.00,172.20 L77.75,172.20 L81.50,172.20 L85.25,172.20 L89.00,172.20 L92.75,172.20 L96.50,172.20 L100.25,172.20 L104.00,172.20 L107.75,172.20 L111.50,172.20 L115.25,172.20 L119.00,172.20" fill="none" stroke="#a8dca0" stroke-width="0.59"/>
<path d="M17.00,144.60 L19.25,144.87 L21.50,145.12 L23.75,145.35 L26.00,145.57 L28.25,145.79 L30.50,146.02 L32.75,146.27 L35.00,146.54 L37.25,146.84 L39.50,147.18 L41.75,147.56 L44.00,148.00 L45.25,148.32 L46.50,148.77 L47.75,149.32 L49.00,149.96 L50.25,150.69 L51.50,151.48 L52.75,152.34 L54.00,153.23 L55.25,154.16 L56.50,155.10 L57.75,156.06 L59.00,157.00 L59.75,157.60 L60.50,158.25 L61.25,158.96 L62.00,159.71 L62.75,160.49 L63.50,161.29 L64.25,162.10 L65.00,162.91 L65.75,163.72 L66.50,164.51 L67.25,165.27 L68.00,166.00 L68.58,166.58 L69.17,167.22 L69.75,167.89 L70.33,168.58 L70.92,169.26 L71.50,169.92 L72.08,170.53 L72.67,171.08 L73.25,171.54 L73.83,171.89 L74.42,172.12 L75.00,172.20 L78.67,172.20 L82.33,172.20 L86.00,172.20 L89.67,172.20 L93.33,172.20 L97.00,172.20 L100.67,172.20 L104.33,172.20 L108.00,172.20 L111.67,172.20 L115.33,172.20 L119.00,172.20" fill="none" stroke="#6e6e78" stroke-width="0.64"/>
<path d="M17.00,152.00 L19.25,152.24 L21.50,152.46 L23.75,152.67 L26.00,152.87 L28.25,153.07 L30.50,153.28 L32.75,153.50 L35.00,153.74 L37.25,154.00 L39.50,154.29 L41.75,154.63 L44.00,155.00 L45.33,155.28 L46.67,155.64 L48.00,156.07 L49.33,156.57 L50.67,157.12 L52.00,157.73 L53.33,158.38 L54.67,159.06 L56.00,159.78 L57.33,160.51 L58.67,161.25 L60.00,162.00 L61.08,162.71 L62.17,163.60 L63.25,164.62 L64.33,165.73 L65.42,166.87 L66.50,168.01 L67.58,169.10 L68.67,170.10 L69.75,170.95 L70.83,171.61 L71.92,172.05 L73.00,172.20 L76.83,172.20 L80.67,172.20 L84.50,172.20 L88.33,172.20 L92.17,172.20 L96.00,172.20 L99.83,172.20 L103.67,172.20 L107.50,172.20 L111.33,172.20 L115.17,172.20 L119.00,172.20" fill="none" stroke="#e9b3bb" stroke-width="0.59"/>
<path d="M17.00,157.00 L19.75,157.24 L22.50,157.46 L25.25,157.66 L28.00,157.86 L30.75,158.06 L33.50,158.27 L36.25,158.49 L39.00,158.73 L41.75,158.99 L44.50,159.29 L47.25,159.62 L50.00,160.00 L51.33,160.23 L52.67,160.54 L54.00,160.92 L55.33,161.35 L56.67,161.83 L58.00,162.36 L59.33,162.92 L60.67,163.51 L62.00,164.12 L63.33,164.74 L64.67,165.37 L66.00,166.00 L66.83,166.45 L67.67,167.00 L68.50,167.63 L69.33,168.30 L70.17,168.99 L71.00,169.68 L71.83,170.34 L72.67,170.94 L73.50,171.45 L74.33,171.85 L75.17,172.11 L76.00,172.20 L79.58,172.20 L83.17,172.20 L86.75,172.20 L90.33,172.20 L93.92,172.20 L97.50,172.20 L101.08,172.20 L104.67,172.20 L108.25,172.20 L111.83,172.20 L115.42,172.20 L119.00,172.20" fill="none" stroke="#d6e6b4" stroke-width="0.59"/>
<path d="M17.00,161.30 L19.33,161.59 L21.67,161.87 L24.00,162.12 L26.33,162.37 L28.67,162.62 L31.00,162.88 L33.33,163.15 L35.67,163.44 L38.00,163.77 L40.33,164.13 L42.67,164.54 L45.00,165.00 L46.17,165.35 L47.33,165.87 L48.50,166.54 L49.67,167.30 L50.83,168.13 L52.00,168.97 L53.17,169.79 L54.33,170.55 L55.50,171.21 L56.67,171.73 L57.83,172.08 L59.00,172.20 L64.00,172.20 L69.00,172.20 L74.00,172.20 L79.00,172.20 L84.00,172.20 L89.00,172.20 L94.00,172.20 L99.00,172.20 L104.00,172.20 L109.00,172.20 L114.00,172.20 L119.00,172.20" fill="none" stroke="#5a6a7a" stroke-width="0.64"/>
<path d="M17.00,164.20 L19.33,164.51 L21.67,164.79 L24.00,165.07 L26.33,165.34 L28.67,165.61 L31.00,165.89 L33.33,166.18 L35.67,166.48 L38.00,166.81 L40.33,167.17 L42.67,167.57 L45.00,168.00 L46.00,168.25 L47.00,168.58 L48.00,168.99 L49.00,169.44 L50.00,169.91 L51.00,170.39 L52.00,170.86 L53.00,171.28 L54.00,171.65 L55.00,171.94 L56.00,172.13 L57.00,172.20 L60.17,172.20 L63.33,172.20 L66.50,172.20 L69.67,172.20 L72.83,172.20 L76.00,172.20 L79.17,172.20 L82.33,172.20 L85.50,172.20 L88.67,172.20 L91.83,172.20 L95.00,172.20 L97.00,172.20 L99.00,172.20 L101.00,172.20 L103.00,172.20 L105.00,172.20 L107.00,172.20 L109.00,172.20 L111.00,172.20 L113.00,172.20 L115.00,172.20 L117.00,172.20 L119.00,172.20" fill="none" stroke="#a3dbe6" stroke-width="0.59"/>
<path d="M17.00,177.00 L18.92,176.97 L20.83,176.94 L22.75,176.91 L24.67,176.88 L26.58,176.85 L28.50,176.82 L30.42,176.79 L32.33,176.76 L34.25,176.73 L36.17,176.69 L38.08,176.65 L40.00,176.60 L42.50,176.53 L45.00,176.45 L47.50,176.35 L50.00,176.25 L52.50,176.14 L55.00,176.02 L57.50,175.89 L60.00,175.76 L62.50,175.62 L65.00,175.48 L67.50,175.34 L70.00,175.20 L72.50,175.05 L75.00,174.88 L77.50,174.69 L80.00,174.50 L82.50,174.29 L85.00,174.09 L87.50,173.88 L90.00,173.68 L92.50,173.49 L95.00,173.31 L97.50,173.14 L100.00,173.00 L101.58,172.92 L103.17,172.84 L104.75,172.77 L106.33,172.70 L107.92,172.64 L109.50,172.57 L111.08,172.51 L112.67,172.45 L114.25,172.39 L115.83,172.33 L117.42,172.27 L119.00,172.20" fill="none" stroke="#c8aee4" stroke-width="0.59"/>
<path d="M17.00,174.60 L20.58,174.62 L24.17,174.64 L27.75,174.66 L31.33,174.68 L34.92,174.70 L38.50,174.73 L42.08,174.75 L45.67,174.76 L49.25,174.78 L52.83,174.79 L56.42,174.80 L60.00,174.80 L63.17,174.79 L66.33,174.77 L69.50,174.74 L72.67,174.69 L75.83,174.63 L79.00,174.56 L82.17,174.48 L85.33,174.40 L88.50,174.31 L91.67,174.21 L94.83,174.11 L98.00,174.00 L99.75,173.93 L101.50,173.83 L103.25,173.70 L105.00,173.56 L106.75,173.40 L108.50,173.24 L110.25,173.06 L112.00,172.88 L113.75,172.70 L115.50,172.53 L117.25,172.36 L119.00,172.20" fill="none" stroke="#efc6e2" stroke-width="0.51"/>
<path d="M17.00,184.80 L19.25,184.75 L21.50,184.71 L23.75,184.67 L26.00,184.63 L28.25,184.59 L30.50,184.55 L32.75,184.51 L35.00,184.46 L37.25,184.41 L39.50,184.35 L41.75,184.28 L44.00,184.20 L46.50,184.07 L49.00,183.89 L51.50,183.65 L54.00,183.37 L56.50,183.05 L59.00,182.70 L61.50,182.33 L64.00,181.93 L66.50,181.53 L69.00,181.11 L71.50,180.70 L74.00,180.30 L76.17,179.93 L78.33,179.53 L80.50,179.10 L82.67,178.64 L84.83,178.17 L87.00,177.69 L89.17,177.21 L91.33,176.73 L93.50,176.26 L95.67,175.81 L97.83,175.39 L100.00,175.00 L101.58,174.74 L103.17,174.48 L104.75,174.24 L106.33,174.00 L107.92,173.77 L109.50,173.54 L111.08,173.32 L112.67,173.10 L114.25,172.88 L115.83,172.66 L117.42,172.43 L119.00,172.20" fill="none" stroke="#8c8c90" stroke-width="0.59"/>
<path d="M17.00,189.30 L19.75,189.20 L22.50,189.11 L25.25,189.02 L28.00,188.94 L30.75,188.85 L33.50,188.77 L36.25,188.68 L39.00,188.57 L41.75,188.46 L44.50,188.33 L47.25,188.17 L50.00,188.00 L52.00,187.80 L54.00,187.50 L56.00,187.10 L58.00,186.63 L60.00,186.09 L62.00,185.52 L64.00,184.91 L66.00,184.29 L68.00,183.67 L70.00,183.07 L72.00,182.51 L74.00,182.00 L76.17,181.48 L78.33,180.96 L80.50,180.45 L82.67,179.93 L84.83,179.42 L87.00,178.92 L89.17,178.41 L91.33,177.92 L93.50,177.43 L95.67,176.94 L97.83,176.47 L100.00,176.00 L101.58,175.66 L103.17,175.34 L104.75,175.01 L106.33,174.69 L107.92,174.38 L109.50,174.07 L111.08,173.76 L112.67,173.45 L114.25,173.14 L115.83,172.83 L117.42,172.51 L119.00,172.20" fill="none" stroke="#b9c9e9" stroke-width="0.59"/>
<path d="M17.00,193.00 L19.75,192.80 L22.50,192.62 L25.25,192.45 L28.00,192.28 L30.75,192.12 L33.50,191.95 L36.25,191.76 L39.00,191.57 L41.75,191.35 L44.50,191.10 L47.25,190.82 L50.00,190.50 L52.00,190.18 L54.00,189.72 L56.00,189.14 L58.00,188.47 L60.00,187.73 L62.00,186.95 L64.00,186.14 L66.00,185.32 L68.00,184.53 L70.00,183.78 L72.00,183.10 L74.00,182.50 L76.17,181.92 L78.33,181.37 L80.50,180.84 L82.67,180.33 L84.83,179.84 L87.00,179.36 L89.17,178.88 L91.33,178.41 L93.50,177.94 L95.67,177.47 L97.83,176.99 L100.00,176.50 L101.58,176.14 L103.17,175.78 L104.75,175.42 L106.33,175.06 L107.92,174.70 L109.50,174.34 L111.08,173.99 L112.67,173.63 L114.25,173.27 L115.83,172.92 L117.42,172.56 L119.00,172.20" fill="none" stroke="#6f80a6" stroke-width="0.64"/>
<path d="M17.00,196.90 L19.75,196.63 L22.50,196.38 L25.25,196.14 L28.00,195.91 L30.75,195.69 L33.50,195.45 L36.25,195.20 L39.00,194.93 L41.75,194.63 L44.50,194.30 L47.25,193.92 L50.00,193.50 L52.00,193.09 L54.00,192.52 L56.00,191.82 L58.00,191.03 L60.00,190.15 L62.00,189.22 L64.00,188.27 L66.00,187.31 L68.00,186.38 L70.00,185.50 L72.00,184.70 L74.00,184.00 L76.17,183.32 L78.33,182.67 L80.50,182.05 L82.67,181.45 L84.83,180.87 L87.00,180.31 L89.17,179.75 L91.33,179.20 L93.50,178.66 L95.67,178.11 L97.83,177.56 L100.00,177.00 L101.58,176.59 L103.17,176.18 L104.75,175.78 L106.33,175.38 L107.92,174.98 L109.50,174.58 L111.08,174.18 L112.67,173.79 L114.25,173.39 L115.83,173.00 L117.42,172.60 L119.00,172.20" fill="none" stroke="#b1c8d9" stroke-width="0.59"/>
<path d="M17.00,209.00 L19.25,208.63 L21.50,208.30 L23.75,207.98 L26.00,207.68 L28.25,207.37 L30.50,207.05 L32.75,206.72 L35.00,206.35 L37.25,205.95 L39.50,205.49 L41.75,204.98 L44.00,204.40 L45.33,203.95 L46.67,203.36 L48.00,202.63 L49.33,201.79 L50.67,200.86 L52.00,199.84 L53.33,198.76 L54.67,197.63 L56.00,196.48 L57.33,195.31 L58.67,194.14 L60.00,193.00 L61.08,192.01 L62.17,190.88 L63.25,189.65 L64.33,188.35 L65.42,187.01 L66.50,185.68 L67.58,184.37 L68.67,183.14 L69.75,182.00 L70.83,180.99 L71.92,180.14 L73.00,179.50 L74.42,178.82 L75.83,178.16 L77.25,177.54 L78.67,176.96 L80.08,176.42 L81.50,175.92 L82.92,175.47 L84.33,175.07 L85.75,174.72 L87.17,174.42 L88.58,174.18 L90.00,174.00 L92.42,173.76 L94.83,173.56 L97.25,173.38 L99.67,173.22 L102.08,173.08 L104.50,172.95 L106.92,172.83 L109.33,172.71 L111.75,172.59 L114.17,172.47 L116.58,172.34 L119.00,172.20" fill="none" stroke="#a2d8cf" stroke-width="0.59"/>
<path d="M17.00,206.70 L19.25,206.57 L21.50,206.45 L23.75,206.33 L26.00,206.23 L28.25,206.12 L30.50,206.01 L32.75,205.88 L35.00,205.75 L37.25,205.60 L39.50,205.43 L41.75,205.23 L44.00,205.00 L46.00,204.69 L48.00,204.22 L50.00,203.60 L52.00,202.87 L54.00,202.03 L56.00,201.12 L58.00,200.16 L60.00,199.16 L62.00,198.16 L64.00,197.16 L66.00,196.20 L68.00,195.30 L69.83,194.49 L71.67,193.67 L73.50,192.83 L75.33,191.98 L77.17,191.11 L79.00,190.24 L80.83,189.37 L82.67,188.49 L84.50,187.61 L86.33,186.73 L88.17,185.86 L90.00,185.00 L91.25,184.41 L92.50,183.82 L93.75,183.23 L95.00,182.63 L96.25,182.04 L97.50,181.45 L98.75,180.86 L100.00,180.27 L101.25,179.69 L102.50,179.12 L103.75,178.55 L105.00,178.00 L106.17,177.49 L107.33,176.99 L108.50,176.50 L109.67,176.02 L110.83,175.53 L112.00,175.06 L113.17,174.58 L114.33,174.11 L115.50,173.63 L116.67,173.16 L117.83,172.68 L119.00,172.20" fill="none" stroke="#f0b3a2" stroke-width="0.59"/>
<path d="M75.00,172.80 L77.08,173.45 L79.17,174.17 L81.25,174.94 L83.33,175.73 L85.42,176.53 L87.50,177.30 L89.58,178.02 L91.67,178.67 L93.75,179.21 L95.83,179.63 L97.92,179.90 L100.00,180.00 L101.00,179.98 L102.00,179.93 L103.00,179.84 L104.00,179.73 L105.00,179.58 L106.00,179.42 L107.00,179.22 L108.00,179.01 L109.00,178.78 L110.00,178.53 L111.00,178.27 L112.00,178.00 L112.58,177.79 L113.17,177.48 L113.75,177.09 L114.33,176.64 L114.92,176.13 L115.50,175.58 L116.08,175.01 L116.67,174.42 L117.25,173.83 L117.83,173.26 L118.42,172.71 L119.00,172.20" fill="none" stroke="#a8e2e4" stroke-width="0.59"/>
<text x="131.6" y="106.6" font-size="8.2" font-weight="bold" font-family="Liberation Sans, sans-serif" fill="#111" color="#111">D</text>
<line x1="148.30" y1="118.07" x2="148.30" y2="182.04" stroke="#c6c6c6" stroke-width="0.42"/>
<line x1="147.60" y1="118.07" x2="149.00" y2="118.07" stroke="#cdcdcd" stroke-width="0.35"/>
<line x1="147.60" y1="182.04" x2="149.00" y2="182.04" stroke="#cdcdcd" stroke-width="0.35"/>
<line x1="150.30" y1="118.54" x2="150.30" y2="182.27" stroke="#c6c6c6" stroke-width="0.42"/>
<line x1="149.60" y1="118.54" x2="151.00" y2="118.54" stroke="#cdcdcd" stroke-width="0.35"/>
<line x1="149.60" y1="182.27" x2="151.00" y2="182.27" stroke="#cdcdcd" stroke-width="0.35"/>
<line x1="152.30" y1="119.02" x2="152.30" y2="182.49" stroke="#c6c6c6" stroke-width="0.42"/>
<line x1="151.60" y1="119.02" x2="153.00" y2="119.02" stroke="#cdcdcd" stroke-width="0.35"/>
<line x1="151.60" y1="182.49" x2="153.00" y2="182.49" stroke="#cdcdcd" stroke-width="0.35"/>
<line x1="154.30" y1="119.60" x2="154.30" y2="182.72" stroke="#c6c6c6" stroke-width="0.42"/>
<line x1="153.60" y1="119.60" x2="155.00" y2="119.60" stroke="#cdcdcd" stroke-width="0.35"/>
<line x1="153.60" y1="182.72" x2="155.00" y2="182.72" stroke="#cdcdcd" stroke-width="0.35"/>
<line x1="156.30" y1="120.27" x2="156.30" y2="182.96" stroke="#c6c6c6" stroke-width="0.42"/>
<line x1="155.60" y1="120.27" x2="157.00" y2="120.27" stroke="#cdcdcd" stroke-width="0.35"/>
<line x1="155.60" y1="182.96" x2="157.00" y2="182.96" stroke="#cdcdcd" stroke-width="0.35"/>
<line x1="158.30" y1="121.04" x2="158.30" y2="183.23" stroke="#c6c6c6" stroke-width="0.42"/>
<line x1="157.60" y1="121.04" x2="159.00" y2="121.04" stroke="#cdcdcd" stroke-width="0.35"/>
<line x1="157.60" y1="183.23" x2="159.00" y2="183.23" stroke="#cdcdcd" stroke-width="0.35"/>
<line x1="160.30" y1="121.95" x2="160.30" y2="183.55" stroke="#c6c6c6" stroke-width="0.42"/>
<line x1="159.60" y1="121.95" x2="161.00" y2="121.95" stroke="#cdcdcd" stroke-width="0.35"/>
<line x1="159.60" y1="183.55" x2="161.00" y2="183.55" stroke="#cdcdcd" stroke-width="0.35"/>
<line x1="162.30" y1="123.06" x2="162.30" y2="183.89" stroke="#c6c6c6" stroke-width="0.42"/>
<line x1="161.60" y1="123.06" x2="163.00" y2="123.06" stroke="#cdcdcd" stroke-width="0.35"/>
<line x1="161.60" y1="183.89" x2="163.00" y2="183.89" stroke="#cdcdcd" stroke-width="0.35"/>
<line x1="164.30" y1="124.33" x2="164.30" y2="184.25" stroke="#c6c6c6" stroke-width="0.42"/>
<line x1="163.60" y1="124.33" x2="165.00" y2="124.33" stroke="#cdcdcd" stroke-width="0.35"/>
<line x1="163.60" y1="184.25" x2="165.00" y2="184.25" stroke="#cdcdcd" stroke-width="0.35"/>
<line x1="166.30" y1="125.69" x2="166.30" y2="184.62" stroke="#c6c6c6" stroke-width="0.42"/>
<line x1="165.60" y1="125.69" x2="167.00" y2="125.69" stroke="#cdcdcd" stroke-width="0.35"/>
<line x1="165.60" y1="184.62" x2="167.00" y2="184.62" stroke="#cdcdcd" stroke-width="0.35"/>
<line x1="168.30" y1="127.16" x2="168.30" y2="185.01" stroke="#c6c6c6" stroke-width="0.42"/>
<line x1="167.60" y1="127.16" x2="169.00" y2="127.16" stroke="#cdcdcd" stroke-width="0.35"/>
<line x1="167.60" y1="185.01" x2="169.00" y2="185.01" stroke="#cdcdcd" stroke-width="0.35"/>
<line x1="170.30" y1="128.75" x2="170.30" y2="185.44" stroke="#c6c6c6" stroke-width="0.42"/>
<line x1="169.60" y1="128.75" x2="171.00" y2="128.75" stroke="#cdcdcd" stroke-width="0.35"/>
<line x1="169.60" y1="185.44" x2="171.00" y2="185.44" stroke="#cdcdcd" stroke-width="0.35"/>
<line x1="172.30" y1="130.43" x2="172.30" y2="185.90" stroke="#c6c6c6" stroke-width="0.42"/>
<line x1="171.60" y1="130.43" x2="173.00" y2="130.43" stroke="#cdcdcd" stroke-width="0.35"/>
<line x1="171.60" y1="185.90" x2="173.00" y2="185.90" stroke="#cdcdcd" stroke-width="0.35"/>
<line x1="174.30" y1="132.29" x2="174.30" y2="186.41" stroke="#c6c6c6" stroke-width="0.42"/>
<line x1="173.60" y1="132.29" x2="175.00" y2="132.29" stroke="#cdcdcd" stroke-width="0.35"/>
<line x1="173.60" y1="186.41" x2="175.00" y2="186.41" stroke="#cdcdcd" stroke-width="0.35"/>
<line x1="176.30" y1="134.40" x2="176.30" y2="186.98" stroke="#c6c6c6" stroke-width="0.42"/>
<line x1="175.60" y1="134.40" x2="177.00" y2="134.40" stroke="#cdcdcd" stroke-width="0.35"/>
<line x1="175.60" y1="186.98" x2="177.00" y2="186.98" stroke="#cdcdcd" stroke-width="0.35"/>
<line x1="178.30" y1="136.75" x2="178.30" y2="187.62" stroke="#c6c6c6" stroke-width="0.42"/>
<line x1="177.60" y1="136.75" x2="179.00" y2="136.75" stroke="#cdcdcd" stroke-width="0.35"/>
<line x1="177.60" y1="187.62" x2="179.00" y2="187.62" stroke="#cdcdcd" stroke-width="0.35"/>
<line x1="180.30" y1="139.43" x2="180.30" y2="188.35" stroke="#c6c6c6" stroke-width="0.42"/>
<line x1="179.60" y1="139.43" x2="181.00" y2="139.43" stroke="#cdcdcd" stroke-width="0.35"/>
<line x1="179.60" y1="188.35" x2="181.00" y2="188.35" stroke="#cdcdcd" stroke-width="0.35"/>
<line x1="182.30" y1="142.49" x2="182.30" y2="189.16" stroke="#c6c6c6" stroke-width="0.42"/>
<line x1="181.60" y1="142.49" x2="183.00" y2="142.49" stroke="#cdcdcd" stroke-width="0.35"/>
<line x1="181.60" y1="189.16" x2="183.00" y2="189.16" stroke="#cdcdcd" stroke-width="0.35"/>
<line x1="184.30" y1="145.81" x2="184.30" y2="190.06" stroke="#c6c6c6" stroke-width="0.42"/>
<line x1="183.60" y1="145.81" x2="185.00" y2="145.81" stroke="#cdcdcd" stroke-width="0.35"/>
<line x1="183.60" y1="190.06" x2="185.00" y2="190.06" stroke="#cdcdcd" stroke-width="0.35"/>
<line x1="186.30" y1="149.31" x2="186.30" y2="191.07" stroke="#c6c6c6" stroke-width="0.42"/>
<line x1="185.60" y1="149.31" x2="187.00" y2="149.31" stroke="#cdcdcd" stroke-width="0.35"/>
<line x1="185.60" y1="191.07" x2="187.00" y2="191.07" stroke="#cdcdcd" stroke-width="0.35"/>
<line x1="188.30" y1="153.01" x2="188.30" y2="192.22" stroke="#c6c6c6" stroke-width="0.42"/>
<line x1="187.60" y1="153.01" x2="189.00" y2="153.01" stroke="#cdcdcd" stroke-width="0.35"/>
<line x1="187.60" y1="192.22" x2="189.00" y2="192.22" stroke="#cdcdcd" stroke-width="0.35"/>
<line x1="190.30" y1="156.49" x2="190.30" y2="193.45" stroke="#c6c6c6" stroke-width="0.42"/>
<line x1="189.60" y1="156.49" x2="191.00" y2="156.49" stroke="#cdcdcd" stroke-width="0.35"/>
<line x1="189.60" y1="193.45" x2="191.00" y2="193.45" stroke="#cdcdcd" stroke-width="0.35"/>
<line x1="192.30" y1="159.49" x2="192.30" y2="194.72" stroke="#c6c6c6" stroke-width="0.42"/>
<line x1="191.60" y1="159.49" x2="193.00" y2="159.49" stroke="#cdcdcd" stroke-width="0.35"/>
<line x1="191.60" y1="194.72" x2="193.00" y2="194.72" stroke="#cdcdcd" stroke-width="0.35"/>
<line x1="194.30" y1="162.41" x2="194.30" y2="195.97" stroke="#c6c6c6" stroke-width="0.42"/>
<line x1="193.60" y1="162.41" x2="195.00" y2="162.41" stroke="#cdcdcd" stroke-width="0.35"/>
<line x1="193.60" y1="195.97" x2="195.00" y2="195.97" stroke="#cdcdcd" stroke-width="0.35"/>
<line x1="196.30" y1="165.60" x2="196.30" y2="197.14" stroke="#c6c6c6" stroke-width="0.42"/>
<line x1="195.60" y1="165.60" x2="197.00" y2="165.60" stroke="#cdcdcd" stroke-width="0.35"/>
<line x1="195.60" y1="197.14" x2="197.00" y2="197.14" stroke="#cdcdcd" stroke-width="0.35"/>
<line x1="198.30" y1="168.95" x2="198.30" y2="198.26" stroke="#c6c6c6" stroke-width="0.42"/>
<line x1="197.60" y1="168.95" x2="199.00" y2="168.95" stroke="#cdcdcd" stroke-width="0.35"/>
<line x1="197.60" y1="198.26" x2="199.00" y2="198.26" stroke="#cdcdcd" stroke-width="0.35"/>
<line x1="200.30" y1="172.57" x2="200.30" y2="199.64" stroke="#c6c6c6" stroke-width="0.42"/>
<line x1="199.60" y1="172.57" x2="201.00" y2="172.57" stroke="#cdcdcd" stroke-width="0.35"/>
<line x1="199.60" y1="199.64" x2="201.00" y2="199.64" stroke="#cdcdcd" stroke-width="0.35"/>
<line x1="202.30" y1="176.82" x2="202.30" y2="201.57" stroke="#c6c6c6" stroke-width="0.42"/>
<line x1="201.60" y1="176.82" x2="203.00" y2="176.82" stroke="#cdcdcd" stroke-width="0.35"/>
<line x1="201.60" y1="201.57" x2="203.00" y2="201.57" stroke="#cdcdcd" stroke-width="0.35"/>
<line x1="204.30" y1="181.10" x2="204.30" y2="203.49" stroke="#c6c6c6" stroke-width="0.42"/>
<line x1="203.60" y1="181.10" x2="205.00" y2="181.10" stroke="#cdcdcd" stroke-width="0.35"/>
<line x1="203.60" y1="203.49" x2="205.00" y2="203.49" stroke="#cdcdcd" stroke-width="0.35"/>
<line x1="206.30" y1="184.40" x2="206.30" y2="204.76" stroke="#c6c6c6" stroke-width="0.42"/>
<line x1="205.60" y1="184.40" x2="207.00" y2="184.40" stroke="#cdcdcd" stroke-width="0.35"/>
<line x1="205.60" y1="204.76" x2="207.00" y2="204.76" stroke="#cdcdcd" stroke-width="0.35"/>
<line x1="208.30" y1="186.46" x2="208.30" y2="205.72" stroke="#c6c6c6" stroke-width="0.42"/>
<line x1="207.60" y1="186.46" x2="209.00" y2="186.46" stroke="#cdcdcd" stroke-width="0.35"/>
<line x1="207.60" y1="205.72" x2="209.00" y2="205.72" stroke="#cdcdcd" stroke-width="0.35"/>
<line x1="210.30" y1="187.74" x2="210.30" y2="206.47" stroke="#c6c6c6" stroke-width="0.42"/>
<line x1="209.60" y1="187.74" x2="211.00" y2="187.74" stroke="#cdcdcd" stroke-width="0.35"/>
<line x1="209.60" y1="206.47" x2="211.00" y2="206.47" stroke="#cdcdcd" stroke-width="0.35"/>
<line x1="212.30" y1="188.62" x2="212.30" y2="207.09" stroke="#c6c6c6" stroke-width="0.42"/>
<line x1="211.60" y1="188.62" x2="213.00" y2="188.62" stroke="#cdcdcd" stroke-width="0.35"/>
<line x1="211.60" y1="207.09" x2="213.00" y2="207.09" stroke="#cdcdcd" stroke-width="0.35"/>
<line x1="214.30" y1="189.22" x2="214.30" y2="207.65" stroke="#c6c6c6" stroke-width="0.42"/>
<line x1="213.60" y1="189.22" x2="215.00" y2="189.22" stroke="#cdcdcd" stroke-width="0.35"/>
<line x1="213.60" y1="207.65" x2="215.00" y2="207.65" stroke="#cdcdcd" stroke-width="0.35"/>
<line x1="216.30" y1="189.53" x2="216.30" y2="208.09" stroke="#c6c6c6" stroke-width="0.42"/>
<line x1="215.60" y1="189.53" x2="217.00" y2="189.53" stroke="#cdcdcd" stroke-width="0.35"/>
<line x1="215.60" y1="208.09" x2="217.00" y2="208.09" stroke="#cdcdcd" stroke-width="0.35"/>
<line x1="218.30" y1="189.58" x2="218.30" y2="208.27" stroke="#c6c6c6" stroke-width="0.42"/>
<line x1="217.60" y1="189.58" x2="219.00" y2="189.58" stroke="#cdcdcd" stroke-width="0.35"/>
<line x1="217.60" y1="208.27" x2="219.00" y2="208.27" stroke="#cdcdcd" stroke-width="0.35"/>
<line x1="220.30" y1="189.40" x2="220.30" y2="208.06" stroke="#c6c6c6" stroke-width="0.42"/>
<line x1="219.60" y1="189.40" x2="221.00" y2="189.40" stroke="#cdcdcd" stroke-width="0.35"/>
<line x1="219.60" y1="208.06" x2="221.00" y2="208.06" stroke="#cdcdcd" stroke-width="0.35"/>
<line x1="222.30" y1="188.96" x2="222.30" y2="207.47" stroke="#c6c6c6" stroke-width="0.42"/>
<line x1="221.60" y1="188.96" x2="223.00" y2="188.96" stroke="#cdcdcd" stroke-width="0.35"/>
<line x1="221.60" y1="207.47" x2="223.00" y2="207.47" stroke="#cdcdcd" stroke-width="0.35"/>
<line x1="224.30" y1="188.34" x2="224.30" y2="206.64" stroke="#c6c6c6" stroke-width="0.42"/>
<line x1="223.60" y1="188.34" x2="225.00" y2="188.34" stroke="#cdcdcd" stroke-width="0.35"/>
<line x1="223.60" y1="206.64" x2="225.00" y2="206.64" stroke="#cdcdcd" stroke-width="0.35"/>
<line x1="226.30" y1="187.62" x2="226.30" y2="205.72" stroke="#c6c6c6" stroke-width="0.42"/>
<line x1="225.60" y1="187.62" x2="227.00" y2="187.62" stroke="#cdcdcd" stroke-width="0.35"/>
<line x1="225.60" y1="205.72" x2="227.00" y2="205.72" stroke="#cdcdcd" stroke-width="0.35"/>
<line x1="228.30" y1="186.89" x2="228.30" y2="204.88" stroke="#c6c6c6" stroke-width="0.42"/>
<line x1="227.60" y1="186.89" x2="229.00" y2="186.89" stroke="#cdcdcd" stroke-width="0.35"/>
<line x1="227.60" y1="204.88" x2="229.00" y2="204.88" stroke="#cdcdcd" stroke-width="0.35"/>
<line x1="230.30" y1="186.07" x2="230.30" y2="204.02" stroke="#c6c6c6" stroke-width="0.42"/>
<line x1="229.60" y1="186.07" x2="231.00" y2="186.07" stroke="#cdcdcd" stroke-width="0.35"/>
<line x1="229.60" y1="204.02" x2="231.00" y2="204.02" stroke="#cdcdcd" stroke-width="0.35"/>
<line x1="232.30" y1="185.14" x2="232.30" y2="203.10" stroke="#c6c6c6" stroke-width="0.42"/>
<line x1="231.60" y1="185.14" x2="233.00" y2="185.14" stroke="#cdcdcd" stroke-width="0.35"/>
<line x1="231.60" y1="203.10" x2="233.00" y2="203.10" stroke="#cdcdcd" stroke-width="0.35"/>
<line x1="234.30" y1="184.23" x2="234.30" y2="202.21" stroke="#c6c6c6" stroke-width="0.42"/>
<line x1="233.60" y1="184.23" x2="235.00" y2="184.23" stroke="#cdcdcd" stroke-width="0.35"/>
<line x1="233.60" y1="202.21" x2="235.00" y2="202.21" stroke="#cdcdcd" stroke-width="0.35"/>
<line x1="236.30" y1="183.46" x2="236.30" y2="201.46" stroke="#c6c6c6" stroke-width="0.42"/>
<line x1="235.60" y1="183.46" x2="237.00" y2="183.46" stroke="#cdcdcd" stroke-width="0.35"/>
<line x1="235.60" y1="201.46" x2="237.00" y2="201.46" stroke="#cdcdcd" stroke-width="0.35"/>
<line x1="238.30" y1="182.94" x2="238.30" y2="200.94" stroke="#c6c6c6" stroke-width="0.42"/>
<line x1="237.60" y1="182.94" x2="239.00" y2="182.94" stroke="#cdcdcd" stroke-width="0.35"/>
<line x1="237.60" y1="200.94" x2="239.00" y2="200.94" stroke="#cdcdcd" stroke-width="0.35"/>
<line x1="240.30" y1="182.66" x2="240.30" y2="200.64" stroke="#c6c6c6" stroke-width="0.42"/>
<line x1="239.60" y1="182.66" x2="241.00" y2="182.66" stroke="#cdcdcd" stroke-width="0.35"/>
<line x1="239.60" y1="200.64" x2="241.00" y2="200.64" stroke="#cdcdcd" stroke-width="0.35"/>
<line x1="242.30" y1="182.53" x2="242.30" y2="200.48" stroke="#c6c6c6" stroke-width="0.42"/>
<line x1="241.60" y1="182.53" x2="243.00" y2="182.53" stroke="#cdcdcd" stroke-width="0.35"/>
<line x1="241.60" y1="200.48" x2="243.00" y2="200.48" stroke="#cdcdcd" stroke-width="0.35"/>
<line x1="244.30" y1="182.50" x2="244.30" y2="200.41" stroke="#c6c6c6" stroke-width="0.42"/>
<line x1="243.60" y1="182.50" x2="245.00" y2="182.50" stroke="#cdcdcd" stroke-width="0.35"/>
<line x1="243.60" y1="200.41" x2="245.00" y2="200.41" stroke="#cdcdcd" stroke-width="0.35"/>
<line x1="246.30" y1="182.52" x2="246.30" y2="200.39" stroke="#c6c6c6" stroke-width="0.42"/>
<line x1="245.60" y1="182.52" x2="247.00" y2="182.52" stroke="#cdcdcd" stroke-width="0.35"/>
<line x1="245.60" y1="200.39" x2="247.00" y2="200.39" stroke="#cdcdcd" stroke-width="0.35"/>
<line x1="248.30" y1="182.54" x2="248.30" y2="200.37" stroke="#c6c6c6" stroke-width="0.42"/>
<line x1="247.60" y1="182.54" x2="249.00" y2="182.54" stroke="#cdcdcd" stroke-width="0.35"/>
<line x1="247.60" y1="200.37" x2="249.00" y2="200.37" stroke="#cdcdcd" stroke-width="0.35"/>
<line x1="250.30" y1="182.50" x2="250.30" y2="200.30" stroke="#c6c6c6" stroke-width="0.42"/>
<line x1="249.60" y1="182.50" x2="251.00" y2="182.50" stroke="#cdcdcd" stroke-width="0.35"/>
<line x1="249.60" y1="200.30" x2="251.00" y2="200.30" stroke="#cdcdcd" stroke-width="0.35"/>
<polyline points="148.30,118.07 150.30,118.54 152.30,119.02 154.30,119.60 156.30,120.27 158.30,121.04 160.30,121.95 162.30,123.06 164.30,124.33 166.30,125.69 168.30,127.16 170.30,128.75 172.30,130.43 174.30,132.29 176.30,134.40 178.30,136.75 180.30,139.43 182.30,142.49 184.30,145.81 186.30,149.31 188.30,153.01 190.30,156.49 192.30,159.49 194.30,162.41 196.30,165.60 198.30,168.95 200.30,172.57 202.30,176.82 204.30,181.10 206.30,184.40 208.30,186.46 210.30,187.74 212.30,188.62 214.30,189.22 216.30,189.53 218.30,189.58 220.30,189.40 222.30,188.96 224.30,188.34 226.30,187.62 228.30,186.89 230.30,186.07 232.30,185.14 234.30,184.23 236.30,183.46 238.30,182.94 240.30,182.66 242.30,182.53 244.30,182.50 246.30,182.52 248.30,182.54 250.30,182.50" fill="none" stroke="#c4c4c4" stroke-width="0.5"/>
<polyline points="148.30,182.04 150.30,182.27 152.30,182.49 154.30,182.72 156.30,182.96 158.30,183.23 160.30,183.55 162.30,183.89 164.30,184.25 166.30,184.62 168.30,185.01 170.30,185.44 172.30,185.90 174.30,186.41 176.30,186.98 178.30,187.62 180.30,188.35 182.30,189.16 184.30,190.06 186.30,191.07 188.30,192.22 190.30,193.45 192.30,194.72 194.30,195.97 196.30,197.14 198.30,198.26 200.30,199.64 202.30,201.57 204.30,203.49 206.30,204.76 208.30,205.72 210.30,206.47 212.30,207.09 214.30,207.65 216.30,208.09 218.30,208.27 220.30,208.06 222.30,207.47 224.30,206.64 226.30,205.72 228.30,204.88 230.30,204.02 232.30,203.10 234.30,202.21 236.30,201.46 238.30,200.94 240.30,200.64 242.30,200.48 244.30,200.41 246.30,200.39 248.30,200.37 250.30,200.30" fill="none" stroke="#c4c4c4" stroke-width="0.5"/>
<polyline points="148.30,150.70 150.30,151.00 152.30,151.29 154.30,151.65 156.30,152.10 158.30,152.60 160.30,153.18 162.30,153.88 164.30,154.73 166.30,155.71 168.30,156.80 170.30,157.98 172.30,159.27 174.30,160.66 176.30,162.09 178.30,163.53 180.30,164.97 182.30,166.46 184.30,168.04 186.30,169.71 188.30,171.47 190.30,173.39 192.30,175.42 194.30,177.56 196.30,179.84 198.30,182.39 200.30,185.16 202.30,187.86 204.30,190.19 206.30,192.34 208.30,194.29 210.30,195.92 212.30,197.19 214.30,198.20 216.30,198.95 218.30,199.44 220.30,199.63 222.30,199.34 224.30,198.68 226.30,197.87 228.30,196.81 230.30,195.56 232.30,194.36 234.30,193.35 236.30,192.39 238.30,191.63 240.30,191.22 242.30,191.07 244.30,191.07 246.30,191.15 248.30,191.25 250.30,191.30" fill="none" stroke="#f4b4b4" stroke-opacity="0.5" stroke-width="1.8"/>
<circle cx="148.30" cy="150.70" r="0.55" fill="#c02828"/>
<circle cx="150.30" cy="151.00" r="0.55" fill="#c02828"/>
<circle cx="152.30" cy="151.29" r="0.55" fill="#c02828"/>
<circle cx="154.30" cy="151.65" r="0.55" fill="#c02828"/>
<circle cx="156.30" cy="152.10" r="0.55" fill="#c02828"/>
<circle cx="158.30" cy="152.60" r="0.55" fill="#c02828"/>
<circle cx="160.30" cy="153.18" r="0.55" fill="#c02828"/>
<circle cx="162.30" cy="153.88" r="0.55" fill="#c02828"/>
<circle cx="164.30" cy="154.73" r="0.55" fill="#c02828"/>
<circle cx="166.30" cy="155.71" r="0.55" fill="#c02828"/>
<circle cx="168.30" cy="156.80" r="0.55" fill="#c02828"/>
<circle cx="170.30" cy="157.98" r="0.55" fill="#c02828"/>
<circle cx="172.30" cy="159.27" r="0.55" fill="#c02828"/>
<circle cx="174.30" cy="160.66" r="0.55" fill="#c02828"/>
<circle cx="176.30" cy="162.09" r="0.55" fill="#c02828"/>
<circle cx="178.30" cy="163.53" r="0.55" fill="#c02828"/>
<circle cx="180.30" cy="164.97" r="0.55" fill="#c02828"/>
<circle cx="182.30" cy="166.46" r="0.55" fill="#c02828"/>
<circle cx="184.30" cy="168.04" r="0.55" fill="#c02828"/>
<circle cx="186.30" cy="169.71" r="0.55" fill="#c02828"/>
<circle cx="188.30" cy="171.47" r="0.55" fill="#c02828"/>
<circle cx="190.30" cy="173.39" r="0.55" fill="#c02828"/>
<circle cx="192.30" cy="175.42" r="0.55" fill="#c02828"/>
<circle cx="194.30" cy="177.56" r="0.55" fill="#c02828"/>
<circle cx="196.30" cy="179.84" r="0.55" fill="#c02828"/>
<circle cx="198.30" cy="182.39" r="0.55" fill="#c02828"/>
<circle cx="200.30" cy="185.16" r="0.55" fill="#c02828"/>
<circle cx="202.30" cy="187.86" r="0.55" fill="#c02828"/>
<circle cx="204.30" cy="190.19" r="0.55" fill="#c02828"/>
<circle cx="206.30" cy="192.34" r="0.55" fill="#c02828"/>
<circle cx="208.30" cy="194.29" r="0.55" fill="#c02828"/>
<circle cx="210.30" cy="195.92" r="0.55" fill="#c02828"/>
<circle cx="212.30" cy="197.19" r="0.55" fill="#c02828"/>
<circle cx="214.30" cy="198.20" r="0.55" fill="#c02828"/>
<circle cx="216.30" cy="198.95" r="0.55" fill="#c02828"/>
<circle cx="218.30" cy="199.44" r="0.55" fill="#c02828"/>
<circle cx="220.30" cy="199.63" r="0.55" fill="#c02828"/>
<circle cx="222.30" cy="199.34" r="0.55" fill="#c02828"/>
<circle cx="224.30" cy="198.68" r="0.55" fill="#c02828"/>
<circle cx="226.30" cy="197.87" r="0.55" fill="#c02828"/>
<circle cx="228.30" cy="196.81" r="0.55" fill="#c02828"/>
<circle cx="230.30" cy="195.56" r="0.55" fill="#c02828"/>
<circle cx="232.30" cy="194.36" r="0.55" fill="#c02828"/>
<circle cx="234.30" cy="193.35" r="0.55" fill="#c02828"/>
<circle cx="236.30" cy="192.39" r="0.55" fill="#c02828"/>
<circle cx="238.30" cy="191.63" r="0.55" fill="#c02828"/>
<circle cx="240.30" cy="191.22" r="0.55" fill="#c02828"/>
<circle cx="242.30" cy="191.07" r="0.55" fill="#c02828"/>
<circle cx="244.30" cy="191.07" r="0.55" fill="#c02828"/>
<circle cx="246.30" cy="191.15" r="0.55" fill="#c02828"/>
<circle cx="248.30" cy="191.25" r="0.55" fill="#c02828"/>
<circle cx="250.30" cy="191.30" r="0.55" fill="#c02828"/>
<line x1="219.5" y1="115.2" x2="219.5" y2="213.4" stroke="#a0a0a0" stroke-width="0.45"/>
<line x1="250.6" y1="115.2" x2="250.6" y2="213.4" stroke="#a0a0a0" stroke-width="0.45"/>
<rect x="144.5" y="115.2" width="109.8" height="98.2" fill="none" stroke="#8a8a8a" stroke-width="0.55"/>
<text x="149.00" y="110.90" font-size="3.10" text-anchor="middle" textLength="3.11" lengthAdjust="spacingAndGlyphs" font-family="Liberation Sans, sans-serif" fill="#333" color="#333">17</text>
<text x="155.40" y="110.90" font-size="3.10" text-anchor="middle" textLength="3.11" lengthAdjust="spacingAndGlyphs" font-family="Liberation Sans, sans-serif" fill="#333" color="#333">17</text>
<text x="162.50" y="110.90" font-size="3.10" text-anchor="middle" textLength="3.11" lengthAdjust="spacingAndGlyphs" font-family="Liberation Sans, sans-serif" fill="#333" color="#333">17</text>
<text x="169.20" y="110.90" font-size="3.10" text-anchor="middle" textLength="3.11" lengthAdjust="spacingAndGlyphs" font-family="Liberation Sans, sans-serif" fill="#333" color="#333">17</text>
<text x="176.00" y="110.90" font-size="3.10" text-anchor="middle" textLength="3.11" lengthAdjust="spacingAndGlyphs" font-family="Liberation Sans, sans-serif" fill="#333" color="#333">17</text>
<text x="183.50" y="110.90" font-size="3.10" text-anchor="middle" textLength="3.11" lengthAdjust="spacingAndGlyphs" font-family="Liberation Sans, sans-serif" fill="#333" color="#333">16</text>
<text x="190.20" y="110.90" font-size="3.10" text-anchor="middle" textLength="3.11" lengthAdjust="spacingAndGlyphs" font-family="Liberation Sans, sans-serif" fill="#333" color="#333">16</text>
<text x="197.00" y="110.90" font-size="3.10" text-anchor="middle" textLength="3.11" lengthAdjust="spacingAndGlyphs" font-family="Liberation Sans, sans-serif" fill="#333" color="#333">15</text>
<text x="204.20" y="110.90" font-size="3.10" text-anchor="middle" textLength="3.11" lengthAdjust="spacingAndGlyphs" font-family="Liberation Sans, sans-serif" fill="#333" color="#333">13</text>
<text x="210.50" y="110.90" font-size="3.10" text-anchor="middle" textLength="1.56" lengthAdjust="spacingAndGlyphs" font-family="Liberation Sans, sans-serif" fill="#333" color="#333">8</text>
<text x="215.50" y="110.90" font-size="3.10" text-anchor="middle" textLength="1.56" lengthAdjust="spacingAndGlyphs" font-family="Liberation Sans, sans-serif" fill="#333" color="#333">8</text>
<text x="221.20" y="110.90" font-size="3.10" text-anchor="middle" textLength="1.56" lengthAdjust="spacingAndGlyphs" font-family="Liberation Sans, sans-serif" fill="#333" color="#333">8</text>
<text x="226.70" y="110.90" font-size="3.10" text-anchor="middle" textLength="1.56" lengthAdjust="spacingAndGlyphs" font-family="Liberation Sans, sans-serif" fill="#333" color="#333">8</text>
<text x="231.70" y="110.90" font-size="3.10" text-anchor="middle" textLength="1.56" lengthAdjust="spacingAndGlyphs" font-family="Liberation Sans, sans-serif" fill="#333" color="#333">8</text>
<text x="238.70" y="110.90" font-size="3.10" text-anchor="middle" textLength="1.56" lengthAdjust="spacingAndGlyphs" font-family="Liberation Sans, sans-serif" fill="#333" color="#333">6</text>
<text x="243.20" y="110.90" font-size="3.10" text-anchor="middle" textLength="1.56" lengthAdjust="spacingAndGlyphs" font-family="Liberation Sans, sans-serif" fill="#333" color="#333">4</text>
<text x="248.20" y="110.90" font-size="3.10" text-anchor="middle" textLength="1.56" lengthAdjust="spacingAndGlyphs" font-family="Liberation Sans, sans-serif" fill="#333" color="#333">3</text>
<line x1="147.6" y1="213.4" x2="147.6" y2="214.6" stroke="#888" stroke-width="0.4"/>
<text x="147.60" y="220.90" font-size="3.20" text-anchor="middle" textLength="2.76" lengthAdjust="spacingAndGlyphs" font-family="Liberation Sans, sans-serif" fill="#333" color="#333">-7</text>
<line x1="166.0" y1="213.4" x2="166.0" y2="214.6" stroke="#888" stroke-width="0.4"/>
<text x="166.00" y="220.90" font-size="3.20" text-anchor="middle" textLength="2.76" lengthAdjust="spacingAndGlyphs" font-family="Liberation Sans, sans-serif" fill="#333" color="#333">-6</text>
<line x1="184.4" y1="213.4" x2="184.4" y2="214.6" stroke="#888" stroke-width="0.4"/>
<text x="184.40" y="220.90" font-size="3.20" text-anchor="middle" textLength="2.76" lengthAdjust="spacingAndGlyphs" font-family="Liberation Sans, sans-serif" fill="#333" color="#333">-5</text>
<line x1="202.8" y1="213.4" x2="202.8" y2="214.6" stroke="#888" stroke-width="0.4"/>
<text x="202.80" y="220.90" font-size="3.20" text-anchor="middle" textLength="2.76" lengthAdjust="spacingAndGlyphs" font-family="Liberation Sans, sans-serif" fill="#333" color="#333">-4</text>
<line x1="221.2" y1="213.4" x2="221.2" y2="214.6" stroke="#888" stroke-width="0.4"/>
<text x="221.20" y="220.90" font-size="3.20" text-anchor="middle" textLength="2.76" lengthAdjust="spacingAndGlyphs" font-family="Liberation Sans, sans-serif" fill="#333" color="#333">-3</text>
<line x1="239.6" y1="213.4" x2="239.6" y2="214.6" stroke="#888" stroke-width="0.4"/>
<text x="239.60" y="220.90" font-size="3.20" text-anchor="middle" textLength="2.76" lengthAdjust="spacingAndGlyphs" font-family="Liberation Sans, sans-serif" fill="#333" color="#333">-2</text>
<text x="200.00" y="228.00" font-size="3.30" text-anchor="middle" textLength="8.79" lengthAdjust="spacingAndGlyphs" font-family="Liberation Sans, sans-serif" fill="#333" color="#333">Log(λ)</text>
<line x1="144.5" y1="117.1" x2="143.3" y2="117.1" stroke="#888" stroke-width="0.4"/>
<g transform="rotate(-90 139.3 117.1)"><text x="139.30" y="118.20" font-size="3.10" text-anchor="middle" textLength="5.43" lengthAdjust="spacingAndGlyphs" font-family="Liberation Sans, sans-serif" fill="#333" color="#333">11.0</text></g>
<line x1="144.5" y1="138.0" x2="143.3" y2="138.0" stroke="#888" stroke-width="0.4"/>
<g transform="rotate(-90 139.3 138.0)"><text x="139.30" y="139.15" font-size="3.10" text-anchor="middle" textLength="5.64" lengthAdjust="spacingAndGlyphs" font-family="Liberation Sans, sans-serif" fill="#333" color="#333">10.8</text></g>
<line x1="144.5" y1="159.0" x2="143.3" y2="159.0" stroke="#888" stroke-width="0.4"/>
<g transform="rotate(-90 139.3 159.0)"><text x="139.30" y="160.10" font-size="3.10" text-anchor="middle" textLength="5.64" lengthAdjust="spacingAndGlyphs" font-family="Liberation Sans, sans-serif" fill="#333" color="#333">10.6</text></g>
<line x1="144.5" y1="179.9" x2="143.3" y2="179.9" stroke="#888" stroke-width="0.4"/>
<g transform="rotate(-90 139.3 179.9)"><text x="139.30" y="181.05" font-size="3.10" text-anchor="middle" textLength="5.64" lengthAdjust="spacingAndGlyphs" font-family="Liberation Sans, sans-serif" fill="#333" color="#333">10.4</text></g>
<line x1="144.5" y1="200.9" x2="143.3" y2="200.9" stroke="#888" stroke-width="0.4"/>
<g transform="rotate(-90 139.3 200.9)"><text x="139.30" y="202.00" font-size="3.10" text-anchor="middle" textLength="5.64" lengthAdjust="spacingAndGlyphs" font-family="Liberation Sans, sans-serif" fill="#333" color="#333">10.2</text></g>
<g transform="rotate(-90 131.5 164)"><text x="131.50" y="165.00" font-size="3.00" text-anchor="middle" textLength="38.60" lengthAdjust="spacingAndGlyphs" font-family="Liberation Sans, sans-serif" fill="#333" color="#333">Partial Likelihood Deviance</text></g>
<text x="256.8" y="104.1" font-size="8.2" font-weight="bold" font-family="Liberation Sans, sans-serif" fill="#111" color="#111">E</text>
<text x="278" y="110.95" font-size="3.3" font-weight="bold" text-anchor="end" font-family="Liberation Sans, sans-serif" fill="#4848e8" color="#4848e8">METTL3</text>
<rect x="282.50" y="107.50" width="30.60" height="4.65" fill="#fcd4c6" stroke="#e4e4e4" stroke-width="0.3"/>
<rect x="313.10" y="107.50" width="30.60" height="4.65" fill="#f4a08e" stroke="#e4e4e4" stroke-width="0.3"/>
<text x="328.40" y="110.70" font-size="2.4" text-anchor="middle" font-family="Liberation Sans, sans-serif" fill="#555" color="#555">**</text>
<rect x="343.70" y="107.50" width="30.60" height="4.65" fill="#f29282" stroke="#e4e4e4" stroke-width="0.3"/>
<text x="359.00" y="110.70" font-size="2.4" text-anchor="middle" font-family="Liberation Sans, sans-serif" fill="#555" color="#555">**</text>
<text x="278" y="115.60" font-size="3.3" font-weight="bold" text-anchor="end" font-family="Liberation Sans, sans-serif" fill="#4848e8" color="#4848e8">METTL14</text>
<rect x="282.50" y="112.15" width="30.60" height="4.65" fill="#fcd8cc" stroke="#e4e4e4" stroke-width="0.3"/>
<rect x="313.10" y="112.15" width="30.60" height="4.65" fill="#f08c7c" stroke="#e4e4e4" stroke-width="0.3"/>
<text x="328.40" y="115.35" font-size="2.4" text-anchor="middle" font-family="Liberation Sans, sans-serif" fill="#555" color="#555">**</text>
<rect x="343.70" y="112.15" width="30.60" height="4.65" fill="#f6b8a8" stroke="#e4e4e4" stroke-width="0.3"/>
<text x="359.00" y="115.35" font-size="2.4" text-anchor="middle" font-family="Liberation Sans, sans-serif" fill="#555" color="#555">*</text>
<text x="278" y="120.25" font-size="3.3" font-weight="bold" text-anchor="end" font-family="Liberation Sans, sans-serif" fill="#4848e8" color="#4848e8">METTL16</text>
<rect x="282.50" y="116.80" width="30.60" height="4.65" fill="#fbd0c2" stroke="#e4e4e4" stroke-width="0.3"/>
<rect x="313.10" y="116.80" width="30.60" height="4.65" fill="#f08878" stroke="#e4e4e4" stroke-width="0.3"/>
<text x="328.40" y="120.00" font-size="2.4" text-anchor="middle" font-family="Liberation Sans, sans-serif" fill="#555" color="#555">**</text>
<rect x="343.70" y="116.80" width="30.60" height="4.65" fill="#f29484" stroke="#e4e4e4" stroke-width="0.3"/>
<text x="359.00" y="120.00" font-size="2.4" text-anchor="middle" font-family="Liberation Sans, sans-serif" fill="#555" color="#555">**</text>
<text x="278" y="124.91" font-size="3.3" font-weight="bold" text-anchor="end" font-family="Liberation Sans, sans-serif" fill="#4848e8" color="#4848e8">WTAP</text>
<rect x="282.50" y="121.46" width="30.60" height="4.65" fill="#ee5a48" stroke="#e4e4e4" stroke-width="0.3"/>
<text x="297.80" y="124.66" font-size="2.4" text-anchor="middle" font-family="Liberation Sans, sans-serif" fill="#555" color="#555">***</text>
<rect x="313.10" y="121.46" width="30.60" height="4.65" fill="#ececf6" stroke="#e4e4e4" stroke-width="0.3"/>
<rect x="343.70" y="121.46" width="30.60" height="4.65" fill="#fafafa" stroke="#e4e4e4" stroke-width="0.3"/>
<text x="278" y="129.56" font-size="3.3" font-weight="bold" text-anchor="end" font-family="Liberation Sans, sans-serif" fill="#4848e8" color="#4848e8">VIRMA</text>
<rect x="282.50" y="126.11" width="30.60" height="4.65" fill="#fde8e0" stroke="#e4e4e4" stroke-width="0.3"/>
<rect x="313.10" y="126.11" width="30.60" height="4.65" fill="#d8d8ee" stroke="#e4e4e4" stroke-width="0.3"/>
<rect x="343.70" y="126.11" width="30.60" height="4.65" fill="#dcdcf0" stroke="#e4e4e4" stroke-width="0.3"/>
<text x="278" y="134.21" font-size="3.3" font-weight="bold" text-anchor="end" font-family="Liberation Sans, sans-serif" fill="#4848e8" color="#4848e8">ZC3H13</text>
<rect x="282.50" y="130.76" width="30.60" height="4.65" fill="#f6b0a0" stroke="#e4e4e4" stroke-width="0.3"/>
<text x="297.80" y="133.96" font-size="2.4" text-anchor="middle" font-family="Liberation Sans, sans-serif" fill="#555" color="#555">**</text>
<rect x="313.10" y="130.76" width="30.60" height="4.65" fill="#d4d4ec" stroke="#e4e4e4" stroke-width="0.3"/>
<text x="328.40" y="133.96" font-size="2.4" text-anchor="middle" font-family="Liberation Sans, sans-serif" fill="#555" color="#555">*</text>
<rect x="343.70" y="130.76" width="30.60" height="4.65" fill="#fafafa" stroke="#e4e4e4" stroke-width="0.3"/>
<text x="278" y="138.86" font-size="3.3" font-weight="bold" text-anchor="end" font-family="Liberation Sans, sans-serif" fill="#4848e8" color="#4848e8">RBM15</text>
<rect x="282.50" y="135.41" width="30.60" height="4.65" fill="#f8b8a8" stroke="#e4e4e4" stroke-width="0.3"/>
<text x="297.80" y="138.61" font-size="2.4" text-anchor="middle" font-family="Liberation Sans, sans-serif" fill="#555" color="#555">**</text>
<rect x="313.10" y="135.41" width="30.60" height="4.65" fill="#d4d4ec" stroke="#e4e4e4" stroke-width="0.3"/>
<text x="328.40" y="138.61" font-size="2.4" text-anchor="middle" font-family="Liberation Sans, sans-serif" fill="#555" color="#555">*</text>
<rect x="343.70" y="135.41" width="30.60" height="4.65" fill="#dedef0" stroke="#e4e4e4" stroke-width="0.3"/>
<text x="278" y="143.51" font-size="3.3" font-weight="bold" text-anchor="end" font-family="Liberation Sans, sans-serif" fill="#4848e8" color="#4848e8">RBM15B</text>
<rect x="282.50" y="140.06" width="30.60" height="4.65" fill="#fde0d6" stroke="#e4e4e4" stroke-width="0.3"/>
<rect x="313.10" y="140.06" width="30.60" height="4.65" fill="#f4eef2" stroke="#e4e4e4" stroke-width="0.3"/>
<rect x="343.70" y="140.06" width="30.60" height="4.65" fill="#fafafa" stroke="#e4e4e4" stroke-width="0.3"/>
<text x="278" y="148.17" font-size="3.3" font-weight="bold" text-anchor="end" font-family="Liberation Sans, sans-serif" fill="#6ae46a" color="#6ae46a">YTHDC1</text>
<rect x="282.50" y="144.72" width="30.60" height="4.65" fill="#fbd4c8" stroke="#e4e4e4" stroke-width="0.3"/>
<text x="297.80" y="147.92" font-size="2.4" text-anchor="middle" font-family="Liberation Sans, sans-serif" fill="#555" color="#555">*</text>
<rect x="313.10" y="144.72" width="30.60" height="4.65" fill="#fcdcd0" stroke="#e4e4e4" stroke-width="0.3"/>
<text x="328.40" y="147.92" font-size="2.4" text-anchor="middle" font-family="Liberation Sans, sans-serif" fill="#555" color="#555">*</text>
<rect x="343.70" y="144.72" width="30.60" height="4.65" fill="#fad0c4" stroke="#e4e4e4" stroke-width="0.3"/>
<text x="359.00" y="147.92" font-size="2.4" text-anchor="middle" font-family="Liberation Sans, sans-serif" fill="#555" color="#555">*</text>
<text x="278" y="152.82" font-size="3.3" font-weight="bold" text-anchor="end" font-family="Liberation Sans, sans-serif" fill="#6ae46a" color="#6ae46a">YTHDC2</text>
<rect x="282.50" y="149.37" width="30.60" height="4.65" fill="#f4a494" stroke="#e4e4e4" stroke-width="0.3"/>
<text x="297.80" y="152.57" font-size="2.4" text-anchor="middle" font-family="Liberation Sans, sans-serif" fill="#555" color="#555">***</text>
<rect x="313.10" y="149.37" width="30.60" height="4.65" fill="#f8f6f8" stroke="#e4e4e4" stroke-width="0.3"/>
<rect x="343.70" y="149.37" width="30.60" height="4.65" fill="#fafafa" stroke="#e4e4e4" stroke-width="0.3"/>
<text x="278" y="157.47" font-size="3.3" font-weight="bold" text-anchor="end" font-family="Liberation Sans, sans-serif" fill="#6ae46a" color="#6ae46a">YTHDF1</text>
<rect x="282.50" y="154.02" width="30.60" height="4.65" fill="#dcd8ec" stroke="#e4e4e4" stroke-width="0.3"/>
<rect x="313.10" y="154.02" width="30.60" height="4.65" fill="#f29888" stroke="#e4e4e4" stroke-width="0.3"/>
<text x="328.40" y="157.22" font-size="2.4" text-anchor="middle" font-family="Liberation Sans, sans-serif" fill="#555" color="#555">**</text>
<rect x="343.70" y="154.02" width="30.60" height="4.65" fill="#f4a898" stroke="#e4e4e4" stroke-width="0.3"/>
<text x="359.00" y="157.22" font-size="2.4" text-anchor="middle" font-family="Liberation Sans, sans-serif" fill="#555" color="#555">*</text>
<text x="278" y="162.12" font-size="3.3" font-weight="bold" text-anchor="end" font-family="Liberation Sans, sans-serif" fill="#6ae46a" color="#6ae46a">YTHDF2</text>
<rect x="282.50" y="158.67" width="30.60" height="4.65" fill="#f4aa9a" stroke="#e4e4e4" stroke-width="0.3"/>
<text x="297.80" y="161.87" font-size="2.4" text-anchor="middle" font-family="Liberation Sans, sans-serif" fill="#555" color="#555">**</text>
<rect x="313.10" y="158.67" width="30.60" height="4.65" fill="#e4e4f2" stroke="#e4e4e4" stroke-width="0.3"/>
<rect x="343.70" y="158.67" width="30.60" height="4.65" fill="#e0e0f0" stroke="#e4e4e4" stroke-width="0.3"/>
<text x="359.00" y="161.87" font-size="2.4" text-anchor="middle" font-family="Liberation Sans, sans-serif" fill="#555" color="#555">*</text>
<text x="278" y="166.77" font-size="3.3" font-weight="bold" text-anchor="end" font-family="Liberation Sans, sans-serif" fill="#6ae46a" color="#6ae46a">YTHDF3</text>
<rect x="282.50" y="163.32" width="30.60" height="4.65" fill="#f2a090" stroke="#e4e4e4" stroke-width="0.3"/>
<text x="297.80" y="166.52" font-size="2.4" text-anchor="middle" font-family="Liberation Sans, sans-serif" fill="#555" color="#555">***</text>
<rect x="313.10" y="163.32" width="30.60" height="4.65" fill="#c2c2e4" stroke="#e4e4e4" stroke-width="0.3"/>
<text x="328.40" y="166.52" font-size="2.4" text-anchor="middle" font-family="Liberation Sans, sans-serif" fill="#555" color="#555">***</text>
<rect x="343.70" y="163.32" width="30.60" height="4.65" fill="#e4e4f2" stroke="#e4e4e4" stroke-width="0.3"/>
<text x="278" y="171.43" font-size="3.3" font-weight="bold" text-anchor="end" font-family="Liberation Sans, sans-serif" fill="#6ae46a" color="#6ae46a">HNRNPC</text>
<rect x="282.50" y="167.98" width="30.60" height="4.65" fill="#fcfafa" stroke="#e4e4e4" stroke-width="0.3"/>
<rect x="313.10" y="167.98" width="30.60" height="4.65" fill="#f8f8fa" stroke="#e4e4e4" stroke-width="0.3"/>
<rect x="343.70" y="167.98" width="30.60" height="4.65" fill="#fafafa" stroke="#e4e4e4" stroke-width="0.3"/>
<text x="278" y="176.08" font-size="3.3" font-weight="bold" text-anchor="end" font-family="Liberation Sans, sans-serif" fill="#6ae46a" color="#6ae46a">FMR1</text>
<rect x="282.50" y="172.63" width="30.60" height="4.65" fill="#f6b4a4" stroke="#e4e4e4" stroke-width="0.3"/>
<text x="297.80" y="175.83" font-size="2.4" text-anchor="middle" font-family="Liberation Sans, sans-serif" fill="#555" color="#555">*</text>
<rect x="313.10" y="172.63" width="30.60" height="4.65" fill="#e4e4f2" stroke="#e4e4e4" stroke-width="0.3"/>
<rect x="343.70" y="172.63" width="30.60" height="4.65" fill="#fafafa" stroke="#e4e4e4" stroke-width="0.3"/>
<text x="278" y="180.73" font-size="3.3" font-weight="bold" text-anchor="end" font-family="Liberation Sans, sans-serif" fill="#6ae46a" color="#6ae46a">LRPPRC</text>
<rect x="282.50" y="177.28" width="30.60" height="4.65" fill="#d8d4ec" stroke="#e4e4e4" stroke-width="0.3"/>
<text x="297.80" y="180.48" font-size="2.4" text-anchor="middle" font-family="Liberation Sans, sans-serif" fill="#555" color="#555">*</text>
<rect x="313.10" y="177.28" width="30.60" height="4.65" fill="#e8e8f4" stroke="#e4e4e4" stroke-width="0.3"/>
<rect x="343.70" y="177.28" width="30.60" height="4.65" fill="#e6e6f2" stroke="#e4e4e4" stroke-width="0.3"/>
<text x="278" y="185.38" font-size="3.3" font-weight="bold" text-anchor="end" font-family="Liberation Sans, sans-serif" fill="#6ae46a" color="#6ae46a">HNRNPA2B1</text>
<rect x="282.50" y="181.93" width="30.60" height="4.65" fill="#fcfafa" stroke="#e4e4e4" stroke-width="0.3"/>
<rect x="313.10" y="181.93" width="30.60" height="4.65" fill="#f8f8fa" stroke="#e4e4e4" stroke-width="0.3"/>
<rect x="343.70" y="181.93" width="30.60" height="4.65" fill="#fafafa" stroke="#e4e4e4" stroke-width="0.3"/>
<text x="278" y="190.03" font-size="3.3" font-weight="bold" text-anchor="end" font-family="Liberation Sans, sans-serif" fill="#6ae46a" color="#6ae46a">IGF2BP1</text>
<rect x="282.50" y="186.58" width="30.60" height="4.65" fill="#dcdcf0" stroke="#e4e4e4" stroke-width="0.3"/>
<rect x="313.10" y="186.58" width="30.60" height="4.65" fill="#e4e4f2" stroke="#e4e4e4" stroke-width="0.3"/>
<rect x="343.70" y="186.58" width="30.60" height="4.65" fill="#eaeaf4" stroke="#e4e4e4" stroke-width="0.3"/>
<text x="278" y="194.69" font-size="3.3" font-weight="bold" text-anchor="end" font-family="Liberation Sans, sans-serif" fill="#6ae46a" color="#6ae46a">IGF2BP2</text>
<rect x="282.50" y="191.24" width="30.60" height="4.65" fill="#e4e4f2" stroke="#e4e4e4" stroke-width="0.3"/>
<rect x="313.10" y="191.24" width="30.60" height="4.65" fill="#f8c6b6" stroke="#e4e4e4" stroke-width="0.3"/>
<text x="328.40" y="194.44" font-size="2.4" text-anchor="middle" font-family="Liberation Sans, sans-serif" fill="#555" color="#555">*</text>
<rect x="343.70" y="191.24" width="30.60" height="4.65" fill="#f08a78" stroke="#e4e4e4" stroke-width="0.3"/>
<text x="359.00" y="194.44" font-size="2.4" text-anchor="middle" font-family="Liberation Sans, sans-serif" fill="#555" color="#555">**</text>
<text x="278" y="199.34" font-size="3.3" font-weight="bold" text-anchor="end" font-family="Liberation Sans, sans-serif" fill="#6ae46a" color="#6ae46a">IGF2BP3</text>
<rect x="282.50" y="195.89" width="30.60" height="4.65" fill="#eeeef8" stroke="#e4e4e4" stroke-width="0.3"/>
<rect x="313.10" y="195.89" width="30.60" height="4.65" fill="#f4f0f4" stroke="#e4e4e4" stroke-width="0.3"/>
<rect x="343.70" y="195.89" width="30.60" height="4.65" fill="#fcf4f4" stroke="#e4e4e4" stroke-width="0.3"/>
<text x="278" y="203.99" font-size="3.3" font-weight="bold" text-anchor="end" font-family="Liberation Sans, sans-serif" fill="#6ae46a" color="#6ae46a">RBMX</text>
<rect x="282.50" y="200.54" width="30.60" height="4.65" fill="#f4aa9c" stroke="#e4e4e4" stroke-width="0.3"/>
<text x="297.80" y="203.74" font-size="2.4" text-anchor="middle" font-family="Liberation Sans, sans-serif" fill="#555" color="#555">**</text>
<rect x="313.10" y="200.54" width="30.60" height="4.65" fill="#fce4dc" stroke="#e4e4e4" stroke-width="0.3"/>
<rect x="343.70" y="200.54" width="30.60" height="4.65" fill="#fce8e0" stroke="#e4e4e4" stroke-width="0.3"/>
<text x="278" y="208.64" font-size="3.3" font-weight="bold" text-anchor="end" font-family="Liberation Sans, sans-serif" fill="#f03a3a" color="#f03a3a">FTO</text>
<rect x="282.50" y="205.19" width="30.60" height="4.65" fill="#f4a898" stroke="#e4e4e4" stroke-width="0.3"/>
<text x="297.80" y="208.39" font-size="2.4" text-anchor="middle" font-family="Liberation Sans, sans-serif" fill="#555" color="#555">***</text>
<rect x="313.10" y="205.19" width="30.60" height="4.65" fill="#fce4dc" stroke="#e4e4e4" stroke-width="0.3"/>
<rect x="343.70" y="205.19" width="30.60" height="4.65" fill="#fdf0ea" stroke="#e4e4e4" stroke-width="0.3"/>
<text x="278" y="213.29" font-size="3.3" font-weight="bold" text-anchor="end" font-family="Liberation Sans, sans-serif" fill="#f03a3a" color="#f03a3a">ALKBH5</text>
<rect x="282.50" y="209.84" width="30.60" height="4.65" fill="#fde8e0" stroke="#e4e4e4" stroke-width="0.3"/>
<rect x="313.10" y="209.84" width="30.60" height="4.65" fill="#e8463a" stroke="#e4e4e4" stroke-width="0.3"/>
<text x="328.40" y="213.04" font-size="2.4" text-anchor="middle" font-family="Liberation Sans, sans-serif" fill="#555" color="#555">***</text>
<rect x="343.70" y="209.84" width="30.60" height="4.65" fill="#e02828" stroke="#e4e4e4" stroke-width="0.3"/>
<text x="359.00" y="213.04" font-size="2.4" text-anchor="middle" font-family="Liberation Sans, sans-serif" fill="#555" color="#555">***</text>
<line x1="313.1" y1="107.5" x2="313.1" y2="214.5" stroke="#c4c4c4" stroke-width="0.45"/>
<line x1="343.7" y1="107.5" x2="343.7" y2="214.5" stroke="#c4c4c4" stroke-width="0.45"/>
<rect x="282.5" y="107.5" width="91.8" height="107" fill="none" stroke="#d8d8d8" stroke-width="0.4"/>
<g transform="rotate(-45 299.4 218.8)"><text x="299.60" y="218.80" font-size="3.20" text-anchor="end" textLength="16.12" lengthAdjust="spacingAndGlyphs" font-family="Liberation Sans, sans-serif" fill="#333" color="#333">AC008770.3</text></g>
<g transform="rotate(-45 330.0 218.8)"><text x="330.20" y="218.80" font-size="3.20" text-anchor="end" textLength="16.12" lengthAdjust="spacingAndGlyphs" font-family="Liberation Sans, sans-serif" fill="#333" color="#333">AC025754.2</text></g>
<g transform="rotate(-45 360.6 218.8)"><text x="360.80" y="218.80" font-size="3.20" text-anchor="end" textLength="11.28" lengthAdjust="spacingAndGlyphs" font-family="Liberation Sans, sans-serif" fill="#333" color="#333">MIR4HG</text></g>
<text x="386.00" y="142.60" font-size="3.30" text-anchor="end" textLength="3.50" lengthAdjust="spacingAndGlyphs" font-family="Liberation Sans, sans-serif" fill="#333" color="#333">***</text>
<text x="386.00" y="146.00" font-size="3.30" text-anchor="end" textLength="2.33" lengthAdjust="spacingAndGlyphs" font-family="Liberation Sans, sans-serif" fill="#333" color="#333">**</text>
<text x="386.00" y="149.50" font-size="3.30" text-anchor="end" textLength="1.17" lengthAdjust="spacingAndGlyphs" font-family="Liberation Sans, sans-serif" fill="#333" color="#333">*</text>
<text x="387.80" y="141.60" font-size="3.20" text-anchor="start" textLength="11.66" lengthAdjust="spacingAndGlyphs" font-family="Liberation Sans, sans-serif" fill="#333" color="#333">p&lt;0.001</text>
<text x="387.00" y="145.00" font-size="3.20" text-anchor="start" textLength="9.26" lengthAdjust="spacingAndGlyphs" font-family="Liberation Sans, sans-serif" fill="#333" color="#333">p&lt;0.01</text>
<text x="386.70" y="148.50" font-size="3.20" text-anchor="start" textLength="9.26" lengthAdjust="spacingAndGlyphs" font-family="Liberation Sans, sans-serif" fill="#333" color="#333">p&lt;0.05</text>
<text x="382.30" y="155.00" font-size="3.20" text-anchor="start" textLength="15.16" lengthAdjust="spacingAndGlyphs" font-family="Liberation Sans, sans-serif" fill="#333" color="#333">Correlation</text>
<defs><linearGradient id="cg" x1="0" y1="0" x2="0" y2="1"><stop offset="0" stop-color="#cc1c1c"/><stop offset="0.3" stop-color="#ee7070"/><stop offset="0.72" stop-color="#fdf6f6"/><stop offset="1" stop-color="#c8c8e6"/></linearGradient></defs>
<rect x="382.8" y="157.5" width="4.6" height="25.7" fill="url(#cg)"/>
<text x="389.00" y="160.60" font-size="2.80" text-anchor="start" textLength="3.34" lengthAdjust="spacingAndGlyphs" font-family="Liberation Sans, sans-serif" fill="#444" color="#444">0.6</text>
<text x="389.00" y="166.20" font-size="2.80" text-anchor="start" textLength="3.34" lengthAdjust="spacingAndGlyphs" font-family="Liberation Sans, sans-serif" fill="#444" color="#444">0.4</text>
<text x="389.00" y="171.80" font-size="2.80" text-anchor="start" textLength="3.34" lengthAdjust="spacingAndGlyphs" font-family="Liberation Sans, sans-serif" fill="#444" color="#444">0.2</text>
<text x="389.00" y="177.40" font-size="2.80" text-anchor="start" textLength="3.34" lengthAdjust="spacingAndGlyphs" font-family="Liberation Sans, sans-serif" fill="#444" color="#444">0.0</text>
<text x="389.00" y="183.00" font-size="2.80" text-anchor="start" textLength="4.14" lengthAdjust="spacingAndGlyphs" font-family="Liberation Sans, sans-serif" fill="#444" color="#444">-0.2</text>
</svg></body></html>
